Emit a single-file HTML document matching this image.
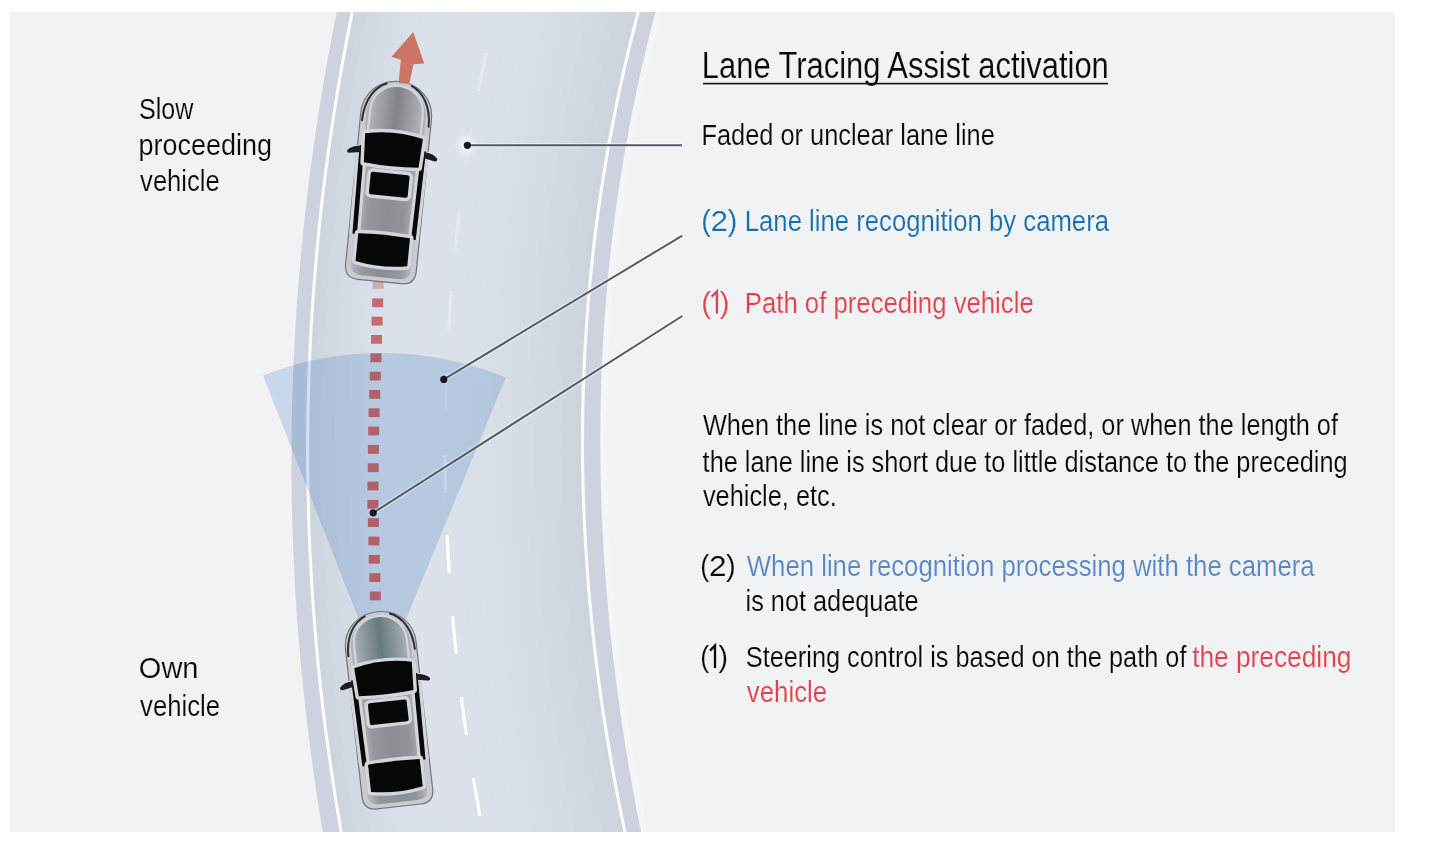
<!DOCTYPE html>
<html><head><meta charset="utf-8"><title>Lane Tracing Assist activation</title>
<style>html,body{margin:0;padding:0;background:#fff;width:1437px;height:847px;overflow:hidden}</style>
</head><body><svg width="1437" height="847" viewBox="0 0 1437 847" style="display:block;font-family:'Liberation Sans',sans-serif"><defs>
<clipPath id="panel"><rect x="10" y="12" width="1385" height="820"/></clipPath>
<linearGradient id="roadg" x1="0" y1="0" x2="1" y2="0">
<stop offset="0" stop-color="#cfd6e0"/><stop offset="0.15" stop-color="#d6dce6"/><stop offset="0.6" stop-color="#d9dfe8"/><stop offset="0.9" stop-color="#d2d9e3"/><stop offset="1" stop-color="#ccd3de"/>
</linearGradient>
<linearGradient id="carg" x1="0" y1="0" x2="1" y2="0">
<stop offset="0" stop-color="#b4b8be"/><stop offset="0.2" stop-color="#94979c"/><stop offset="0.5" stop-color="#8a8d92"/><stop offset="0.8" stop-color="#919499"/><stop offset="1" stop-color="#b2b6bc"/>
</linearGradient>
<linearGradient id="hoodg2" x1="0" y1="0" x2="1" y2="0">
<stop offset="0" stop-color="#aab0b5"/><stop offset="0.22" stop-color="#8c979d"/><stop offset="0.5" stop-color="#697880"/><stop offset="0.78" stop-color="#8c979d"/><stop offset="1" stop-color="#aab0b5"/>
</linearGradient>
<linearGradient id="hoodg" x1="0" y1="0" x2="1" y2="0">
<stop offset="0" stop-color="#b2b5ba"/><stop offset="0.22" stop-color="#9b9ea3"/><stop offset="0.5" stop-color="#808387"/><stop offset="0.78" stop-color="#9b9ea3"/><stop offset="1" stop-color="#b2b5ba"/>
</linearGradient>
</defs><rect x="0" y="0" width="1437" height="847" fill="#ffffff"/><rect x="10" y="12" width="1385" height="820" fill="#f1f2f4"/><g clip-path="url(#panel)"><path d="M659.5,8.0 L654.3,28.0 L649.3,48.0 L644.6,68.0 L640.2,88.0 L636.0,108.0 L632.1,128.0 L628.5,148.0 L625.1,168.0 L621.9,188.0 L619.0,208.0 L616.4,228.0 L614.0,248.0 L611.9,268.0 L610.0,288.0 L608.3,308.0 L606.9,328.0 L605.7,348.0 L604.8,368.0 L604.0,388.0 L603.6,408.0 L603.3,428.0 L603.3,448.0 L603.5,468.0 L603.9,488.0 L604.5,508.0 L605.4,528.0 L606.5,548.0 L607.8,568.0 L609.3,588.0 L611.0,608.0 L612.9,628.0 L615.1,648.0 L617.4,668.0 L619.9,688.0 L622.7,708.0 L625.6,728.0 L628.7,748.0 L632.1,768.0 L635.6,788.0 L639.3,808.0 L643.2,828.0 L647.3,848.0" stroke="#f4f5f7" stroke-width="7" fill="none"/><path d="M337.6,8.0 L333.6,28.0 L329.8,48.0 L326.1,68.0 L322.7,88.0 L319.4,108.0 L316.3,128.0 L313.4,148.0 L310.7,168.0 L308.1,188.0 L305.8,208.0 L303.6,228.0 L301.6,248.0 L299.7,268.0 L298.1,288.0 L296.6,308.0 L295.4,328.0 L294.3,348.0 L293.3,368.0 L292.6,388.0 L292.0,408.0 L291.7,428.0 L291.5,448.0 L291.4,468.0 L291.6,488.0 L291.9,508.0 L292.5,528.0 L293.2,548.0 L294.1,568.0 L295.1,588.0 L296.4,608.0 L297.8,628.0 L299.4,648.0 L301.2,668.0 L303.2,688.0 L305.3,708.0 L307.7,728.0 L310.2,748.0 L312.9,768.0 L315.8,788.0 L318.8,808.0 L322.1,828.0 L325.5,848.0 L644.3,848.0 L640.2,828.0 L636.3,808.0 L632.6,788.0 L629.1,768.0 L625.7,748.0 L622.6,728.0 L619.7,708.0 L616.9,688.0 L614.4,668.0 L612.1,648.0 L609.9,628.0 L608.0,608.0 L606.3,588.0 L604.8,568.0 L603.5,548.0 L602.4,528.0 L601.5,508.0 L600.9,488.0 L600.5,468.0 L600.3,448.0 L600.3,428.0 L600.6,408.0 L601.0,388.0 L601.8,368.0 L602.7,348.0 L603.9,328.0 L605.3,308.0 L607.0,288.0 L608.9,268.0 L611.0,248.0 L613.4,228.0 L616.0,208.0 L618.9,188.0 L622.1,168.0 L625.5,148.0 L629.1,128.0 L633.0,108.0 L637.2,88.0 L641.6,68.0 L646.3,48.0 L651.3,28.0 L656.5,8.0Z" fill="#cdd2de"/><path d="M352.8,8.0 L348.8,28.0 L344.9,48.0 L341.3,68.0 L337.8,88.0 L334.6,108.0 L331.5,128.0 L328.6,148.0 L325.9,168.0 L323.3,188.0 L321.0,208.0 L318.8,228.0 L316.9,248.0 L315.1,268.0 L313.5,288.0 L312.1,308.0 L310.8,328.0 L309.8,348.0 L308.9,368.0 L308.3,388.0 L307.8,408.0 L307.5,428.0 L307.3,448.0 L307.4,468.0 L307.7,488.0 L308.1,508.0 L308.7,528.0 L309.5,548.0 L310.5,568.0 L311.7,588.0 L313.0,608.0 L314.6,628.0 L316.3,648.0 L318.2,668.0 L320.3,688.0 L322.6,708.0 L325.1,728.0 L327.8,748.0 L330.6,768.0 L333.6,788.0 L336.8,808.0 L340.2,828.0 L343.8,848.0 L351.5,848.0 L347.9,828.0 L344.5,808.0 L341.3,788.0 L338.2,768.0 L335.4,748.0 L332.7,728.0 L330.2,708.0 L327.9,688.0 L325.8,668.0 L323.9,648.0 L322.1,628.0 L320.6,608.0 L319.2,588.0 L318.0,568.0 L317.0,548.0 L316.2,528.0 L315.6,508.0 L315.1,488.0 L314.9,468.0 L314.8,448.0 L314.9,428.0 L315.2,408.0 L315.7,388.0 L316.4,368.0 L317.3,348.0 L318.3,328.0 L319.6,308.0 L321.0,288.0 L322.6,268.0 L324.4,248.0 L326.4,228.0 L328.5,208.0 L330.9,188.0 L333.4,168.0 L336.2,148.0 L339.1,128.0 L342.2,108.0 L345.5,88.0 L349.0,68.0 L352.6,48.0 L356.5,28.0 L360.5,8.0Z" fill="rgb(205, 212, 222)"/><path d="M359.9,8.0 L355.9,28.0 L352.0,48.0 L348.4,68.0 L344.9,88.0 L341.6,108.0 L338.5,128.0 L335.6,148.0 L332.8,168.0 L330.3,188.0 L327.9,208.0 L325.8,228.0 L323.8,248.0 L322.0,268.0 L320.4,288.0 L319.0,308.0 L317.7,328.0 L316.7,348.0 L315.8,368.0 L315.1,388.0 L314.6,408.0 L314.3,428.0 L314.2,448.0 L314.3,468.0 L314.5,488.0 L315.0,508.0 L315.6,528.0 L316.4,548.0 L317.4,568.0 L318.6,588.0 L320.0,608.0 L321.5,628.0 L323.3,648.0 L325.2,668.0 L327.3,688.0 L329.6,708.0 L332.1,728.0 L334.8,748.0 L337.6,768.0 L340.7,788.0 L343.9,808.0 L347.3,828.0 L350.9,848.0 L358.6,848.0 L355.0,828.0 L351.6,808.0 L348.3,788.0 L345.3,768.0 L342.4,748.0 L339.7,728.0 L337.2,708.0 L334.9,688.0 L332.8,668.0 L330.8,648.0 L329.1,628.0 L327.5,608.0 L326.1,588.0 L324.9,568.0 L323.9,548.0 L323.1,528.0 L322.5,508.0 L322.0,488.0 L321.8,468.0 L321.7,448.0 L321.8,428.0 L322.1,408.0 L322.6,388.0 L323.3,368.0 L324.1,348.0 L325.2,328.0 L326.4,308.0 L327.9,288.0 L329.5,268.0 L331.3,248.0 L333.3,228.0 L335.5,208.0 L337.8,188.0 L340.4,168.0 L343.2,148.0 L346.1,128.0 L349.2,108.0 L352.5,88.0 L356.0,68.0 L359.7,48.0 L363.6,28.0 L367.7,8.0Z" fill="rgb(207, 214, 224)"/><path d="M367.1,8.0 L363.0,28.0 L359.1,48.0 L355.4,68.0 L351.9,88.0 L348.6,108.0 L345.5,128.0 L342.6,148.0 L339.8,168.0 L337.2,188.0 L334.9,208.0 L332.7,228.0 L330.7,248.0 L328.9,268.0 L327.3,288.0 L325.8,308.0 L324.6,328.0 L323.5,348.0 L322.7,368.0 L322.0,388.0 L321.5,408.0 L321.2,428.0 L321.1,448.0 L321.2,468.0 L321.4,488.0 L321.9,508.0 L322.5,528.0 L323.3,548.0 L324.3,568.0 L325.5,588.0 L326.9,608.0 L328.5,628.0 L330.2,648.0 L332.2,668.0 L334.3,688.0 L336.6,708.0 L339.1,728.0 L341.8,748.0 L344.7,768.0 L347.7,788.0 L351.0,808.0 L354.4,828.0 L358.0,848.0 L365.7,848.0 L362.1,828.0 L358.7,808.0 L355.4,788.0 L352.3,768.0 L349.4,748.0 L346.7,728.0 L344.2,708.0 L341.9,688.0 L339.7,668.0 L337.8,648.0 L336.0,628.0 L334.4,608.0 L333.0,588.0 L331.8,568.0 L330.8,548.0 L330.0,528.0 L329.3,508.0 L328.9,488.0 L328.6,468.0 L328.6,448.0 L328.7,428.0 L329.0,408.0 L329.5,388.0 L330.1,368.0 L331.0,348.0 L332.1,328.0 L333.3,308.0 L334.8,288.0 L336.4,268.0 L338.2,248.0 L340.2,228.0 L342.4,208.0 L344.8,188.0 L347.4,168.0 L350.1,148.0 L353.1,128.0 L356.2,108.0 L359.6,88.0 L363.1,68.0 L366.8,48.0 L370.7,28.0 L374.8,8.0Z" fill="rgb(209, 216, 226)"/><path d="M374.2,8.0 L370.1,28.0 L366.2,48.0 L362.5,68.0 L359.0,88.0 L355.6,108.0 L352.5,128.0 L349.5,148.0 L346.8,168.0 L344.2,188.0 L341.8,208.0 L339.6,228.0 L337.6,248.0 L335.8,268.0 L334.2,288.0 L332.7,308.0 L331.5,328.0 L330.4,348.0 L329.5,368.0 L328.9,388.0 L328.4,408.0 L328.1,428.0 L328.0,448.0 L328.0,468.0 L328.3,488.0 L328.7,508.0 L329.4,528.0 L330.2,548.0 L331.2,568.0 L332.4,588.0 L333.8,608.0 L335.4,628.0 L337.2,648.0 L339.1,668.0 L341.3,688.0 L343.6,708.0 L346.1,728.0 L348.8,748.0 L351.7,768.0 L354.8,788.0 L358.1,808.0 L361.5,828.0 L365.1,848.0 L372.9,848.0 L369.2,828.0 L365.7,808.0 L362.4,788.0 L359.3,768.0 L356.4,748.0 L353.7,728.0 L351.2,708.0 L348.8,688.0 L346.7,668.0 L344.7,648.0 L342.9,628.0 L341.3,608.0 L339.9,588.0 L338.7,568.0 L337.7,548.0 L336.9,528.0 L336.2,508.0 L335.8,488.0 L335.5,468.0 L335.4,448.0 L335.5,428.0 L335.8,408.0 L336.3,388.0 L337.0,368.0 L337.9,348.0 L339.0,328.0 L340.2,308.0 L341.7,288.0 L343.3,268.0 L345.1,248.0 L347.1,228.0 L349.3,208.0 L351.7,188.0 L354.3,168.0 L357.1,148.0 L360.1,128.0 L363.3,108.0 L366.6,88.0 L370.2,68.0 L373.9,48.0 L377.9,28.0 L382.0,8.0Z" fill="rgb(211, 217, 227)"/><path d="M381.4,8.0 L377.3,28.0 L373.3,48.0 L369.6,68.0 L366.0,88.0 L362.7,108.0 L359.5,128.0 L356.5,148.0 L353.7,168.0 L351.1,188.0 L348.7,208.0 L346.5,228.0 L344.5,248.0 L342.7,268.0 L341.1,288.0 L339.6,308.0 L338.4,328.0 L337.3,348.0 L336.4,368.0 L335.7,388.0 L335.2,408.0 L334.9,428.0 L334.8,448.0 L334.9,468.0 L335.2,488.0 L335.6,508.0 L336.3,528.0 L337.1,548.0 L338.1,568.0 L339.3,588.0 L340.7,608.0 L342.3,628.0 L344.1,648.0 L346.1,668.0 L348.2,688.0 L350.6,708.0 L353.1,728.0 L355.8,748.0 L358.7,768.0 L361.8,788.0 L365.1,808.0 L368.6,828.0 L372.3,848.0 L380.0,848.0 L376.3,828.0 L372.8,808.0 L369.5,788.0 L366.4,768.0 L363.5,748.0 L360.7,728.0 L358.2,708.0 L355.8,688.0 L353.6,668.0 L351.7,648.0 L349.9,628.0 L348.3,608.0 L346.9,588.0 L345.6,568.0 L344.6,548.0 L343.8,528.0 L343.1,508.0 L342.6,488.0 L342.4,468.0 L342.3,448.0 L342.4,428.0 L342.7,408.0 L343.2,388.0 L343.9,368.0 L344.8,348.0 L345.8,328.0 L347.1,308.0 L348.5,288.0 L350.2,268.0 L352.0,248.0 L354.1,228.0 L356.3,208.0 L358.7,188.0 L361.3,168.0 L364.1,148.0 L367.1,128.0 L370.3,108.0 L373.7,88.0 L377.2,68.0 L381.0,48.0 L385.0,28.0 L389.1,8.0Z" fill="rgb(213, 219, 228)"/><path d="M388.5,8.0 L384.4,28.0 L380.4,48.0 L376.6,68.0 L373.1,88.0 L369.7,108.0 L366.5,128.0 L363.5,148.0 L360.7,168.0 L358.1,188.0 L355.7,208.0 L353.5,228.0 L351.4,248.0 L349.6,268.0 L347.9,288.0 L346.5,308.0 L345.2,328.0 L344.2,348.0 L343.3,368.0 L342.6,388.0 L342.1,408.0 L341.8,428.0 L341.7,448.0 L341.8,468.0 L342.0,488.0 L342.5,508.0 L343.2,528.0 L344.0,548.0 L345.0,568.0 L346.3,588.0 L347.7,608.0 L349.3,628.0 L351.1,648.0 L353.0,668.0 L355.2,688.0 L357.6,708.0 L360.1,728.0 L362.9,748.0 L365.8,768.0 L368.9,788.0 L372.2,808.0 L375.7,828.0 L379.4,848.0 L387.1,848.0 L383.4,828.0 L379.9,808.0 L376.6,788.0 L373.4,768.0 L370.5,748.0 L367.7,728.0 L365.2,708.0 L362.8,688.0 L360.6,668.0 L358.6,648.0 L356.8,628.0 L355.2,608.0 L353.8,588.0 L352.5,568.0 L351.5,548.0 L350.7,528.0 L350.0,508.0 L349.5,488.0 L349.3,468.0 L349.2,448.0 L349.3,428.0 L349.6,408.0 L350.1,388.0 L350.8,368.0 L351.6,348.0 L352.7,328.0 L354.0,308.0 L355.4,288.0 L357.1,268.0 L358.9,248.0 L361.0,228.0 L363.2,208.0 L365.6,188.0 L368.3,168.0 L371.1,148.0 L374.1,128.0 L377.3,108.0 L380.7,88.0 L384.3,68.0 L388.1,48.0 L392.1,28.0 L396.3,8.0Z" fill="rgb(214, 220, 229)"/><path d="M395.7,8.0 L391.5,28.0 L387.5,48.0 L383.7,68.0 L380.1,88.0 L376.7,108.0 L373.5,128.0 L370.5,148.0 L367.7,168.0 L365.0,188.0 L362.6,208.0 L360.4,228.0 L358.3,248.0 L356.5,268.0 L354.8,288.0 L353.4,308.0 L352.1,328.0 L351.0,348.0 L350.2,368.0 L349.5,388.0 L349.0,408.0 L348.7,428.0 L348.6,448.0 L348.7,468.0 L348.9,488.0 L349.4,508.0 L350.1,528.0 L350.9,548.0 L351.9,568.0 L353.2,588.0 L354.6,608.0 L356.2,628.0 L358.0,648.0 L360.0,668.0 L362.2,688.0 L364.6,708.0 L367.1,728.0 L369.9,748.0 L372.8,768.0 L376.0,788.0 L379.3,808.0 L382.8,828.0 L386.5,848.0 L394.2,848.0 L390.5,828.0 L386.9,808.0 L383.6,788.0 L380.5,768.0 L377.5,748.0 L374.7,728.0 L372.2,708.0 L369.8,688.0 L367.6,668.0 L365.6,648.0 L363.8,628.0 L362.1,608.0 L360.7,588.0 L359.5,568.0 L358.4,548.0 L357.5,528.0 L356.9,508.0 L356.4,488.0 L356.1,468.0 L356.0,448.0 L356.1,428.0 L356.4,408.0 L356.9,388.0 L357.6,368.0 L358.5,348.0 L359.6,328.0 L360.9,308.0 L362.3,288.0 L364.0,268.0 L365.8,248.0 L367.9,228.0 L370.1,208.0 L372.6,188.0 L375.2,168.0 L378.1,148.0 L381.1,128.0 L384.3,108.0 L387.8,88.0 L391.4,68.0 L395.2,48.0 L399.2,28.0 L403.5,8.0Z" fill="rgb(215, 221, 230)"/><path d="M402.9,8.0 L398.6,28.0 L394.6,48.0 L390.8,68.0 L387.2,88.0 L383.7,108.0 L380.5,128.0 L377.5,148.0 L374.6,168.0 L372.0,188.0 L369.5,208.0 L367.3,228.0 L365.2,248.0 L363.4,268.0 L361.7,288.0 L360.3,308.0 L359.0,328.0 L357.9,348.0 L357.0,368.0 L356.3,388.0 L355.8,408.0 L355.5,428.0 L355.4,448.0 L355.5,468.0 L355.8,488.0 L356.3,508.0 L356.9,528.0 L357.8,548.0 L358.9,568.0 L360.1,588.0 L361.5,608.0 L363.2,628.0 L365.0,648.0 L367.0,668.0 L369.2,688.0 L371.6,708.0 L374.1,728.0 L376.9,748.0 L379.9,768.0 L383.0,788.0 L386.3,808.0 L389.9,828.0 L393.6,848.0 L401.3,848.0 L397.6,828.0 L394.0,808.0 L390.7,788.0 L387.5,768.0 L384.5,748.0 L381.7,728.0 L379.1,708.0 L376.7,688.0 L374.5,668.0 L372.5,648.0 L370.7,628.0 L369.1,608.0 L367.6,588.0 L366.4,568.0 L365.3,548.0 L364.4,528.0 L363.8,508.0 L363.3,488.0 L363.0,468.0 L362.9,448.0 L363.0,428.0 L363.3,408.0 L363.8,388.0 L364.5,368.0 L365.4,348.0 L366.5,328.0 L367.7,308.0 L369.2,288.0 L370.9,268.0 L372.8,248.0 L374.8,228.0 L377.1,208.0 L379.5,188.0 L382.2,168.0 L385.0,148.0 L388.1,128.0 L391.4,108.0 L394.8,88.0 L398.5,68.0 L402.3,48.0 L406.4,28.0 L410.6,8.0Z" fill="rgb(216, 222, 231)"/><path d="M410.0,8.0 L405.8,28.0 L401.7,48.0 L397.9,68.0 L394.2,88.0 L390.8,108.0 L387.5,128.0 L384.4,148.0 L381.6,168.0 L378.9,188.0 L376.5,208.0 L374.2,228.0 L372.2,248.0 L370.3,268.0 L368.6,288.0 L367.1,308.0 L365.9,328.0 L364.8,348.0 L363.9,368.0 L363.2,388.0 L362.7,408.0 L362.4,428.0 L362.3,448.0 L362.4,468.0 L362.7,488.0 L363.2,508.0 L363.8,528.0 L364.7,548.0 L365.8,568.0 L367.0,588.0 L368.5,608.0 L370.1,628.0 L371.9,648.0 L373.9,668.0 L376.1,688.0 L378.5,708.0 L381.1,728.0 L383.9,748.0 L386.9,768.0 L390.1,788.0 L393.4,808.0 L397.0,828.0 L400.7,848.0 L408.4,848.0 L404.6,828.0 L401.1,808.0 L397.7,788.0 L394.5,768.0 L391.5,748.0 L388.7,728.0 L386.1,708.0 L383.7,688.0 L381.5,668.0 L379.5,648.0 L377.6,628.0 L376.0,608.0 L374.5,588.0 L373.3,568.0 L372.2,548.0 L371.3,528.0 L370.7,508.0 L370.2,488.0 L369.9,468.0 L369.8,448.0 L369.9,428.0 L370.2,408.0 L370.7,388.0 L371.4,368.0 L372.3,348.0 L373.3,328.0 L374.6,308.0 L376.1,288.0 L377.8,268.0 L379.7,248.0 L381.7,228.0 L384.0,208.0 L386.5,188.0 L389.2,168.0 L392.0,148.0 L395.1,128.0 L398.4,108.0 L401.9,88.0 L405.5,68.0 L409.4,48.0 L413.5,28.0 L417.8,8.0Z" fill="rgb(217, 223, 232)"/><path d="M417.2,8.0 L412.9,28.0 L408.8,48.0 L404.9,68.0 L401.3,88.0 L397.8,108.0 L394.5,128.0 L391.4,148.0 L388.6,168.0 L385.9,188.0 L383.4,208.0 L381.1,228.0 L379.1,248.0 L377.2,268.0 L375.5,288.0 L374.0,308.0 L372.7,328.0 L371.7,348.0 L370.8,368.0 L370.1,388.0 L369.6,408.0 L369.3,428.0 L369.2,448.0 L369.3,468.0 L369.6,488.0 L370.1,508.0 L370.7,528.0 L371.6,548.0 L372.7,568.0 L373.9,588.0 L375.4,608.0 L377.0,628.0 L378.9,648.0 L380.9,668.0 L383.1,688.0 L385.5,708.0 L388.1,728.0 L390.9,748.0 L393.9,768.0 L397.1,788.0 L400.5,808.0 L404.0,828.0 L407.8,848.0 L415.5,848.0 L411.7,828.0 L408.2,808.0 L404.8,788.0 L401.6,768.0 L398.6,748.0 L395.7,728.0 L393.1,708.0 L390.7,688.0 L388.5,668.0 L386.4,648.0 L384.6,628.0 L382.9,608.0 L381.4,588.0 L380.2,568.0 L379.1,548.0 L378.2,528.0 L377.5,508.0 L377.0,488.0 L376.8,468.0 L376.7,448.0 L376.8,428.0 L377.1,408.0 L377.6,388.0 L378.2,368.0 L379.1,348.0 L380.2,328.0 L381.5,308.0 L383.0,288.0 L384.7,268.0 L386.6,248.0 L388.7,228.0 L390.9,208.0 L393.4,188.0 L396.1,168.0 L399.0,148.0 L402.1,128.0 L405.4,108.0 L408.9,88.0 L412.6,68.0 L416.5,48.0 L420.6,28.0 L424.9,8.0Z" fill="rgb(218, 224, 233)"/><path d="M424.3,8.0 L420.0,28.0 L415.9,48.0 L412.0,68.0 L408.3,88.0 L404.8,108.0 L401.5,128.0 L398.4,148.0 L395.5,168.0 L392.8,188.0 L390.3,208.0 L388.1,228.0 L386.0,248.0 L384.1,268.0 L382.4,288.0 L380.9,308.0 L379.6,328.0 L378.5,348.0 L377.6,368.0 L377.0,388.0 L376.5,408.0 L376.2,428.0 L376.1,448.0 L376.2,468.0 L376.4,488.0 L376.9,508.0 L377.6,528.0 L378.5,548.0 L379.6,568.0 L380.8,588.0 L382.3,608.0 L384.0,628.0 L385.8,648.0 L387.9,668.0 L390.1,688.0 L392.5,708.0 L395.1,728.0 L398.0,748.0 L401.0,768.0 L404.2,788.0 L407.6,808.0 L411.1,828.0 L414.9,848.0 L422.6,848.0 L418.8,828.0 L415.2,808.0 L411.8,788.0 L408.6,768.0 L405.6,748.0 L402.8,728.0 L400.1,708.0 L397.7,688.0 L395.4,668.0 L393.4,648.0 L391.5,628.0 L389.8,608.0 L388.4,588.0 L387.1,568.0 L386.0,548.0 L385.1,528.0 L384.4,508.0 L383.9,488.0 L383.6,468.0 L383.5,448.0 L383.6,428.0 L383.9,408.0 L384.4,388.0 L385.1,368.0 L386.0,348.0 L387.1,328.0 L388.4,308.0 L389.9,288.0 L391.6,268.0 L393.5,248.0 L395.6,228.0 L397.9,208.0 L400.4,188.0 L403.1,168.0 L406.0,148.0 L409.1,128.0 L412.4,108.0 L415.9,88.0 L419.7,68.0 L423.6,48.0 L427.7,28.0 L432.1,8.0Z" fill="rgb(219, 225, 234)"/><path d="M431.5,8.0 L427.1,28.0 L423.0,48.0 L419.1,68.0 L415.3,88.0 L411.8,108.0 L408.5,128.0 L405.4,148.0 L402.5,168.0 L399.8,188.0 L397.3,208.0 L395.0,228.0 L392.9,248.0 L391.0,268.0 L389.3,288.0 L387.8,308.0 L386.5,328.0 L385.4,348.0 L384.5,368.0 L383.8,388.0 L383.3,408.0 L383.0,428.0 L382.9,448.0 L383.0,468.0 L383.3,488.0 L383.8,508.0 L384.5,528.0 L385.4,548.0 L386.5,568.0 L387.8,588.0 L389.2,608.0 L390.9,628.0 L392.8,648.0 L394.8,668.0 L397.1,688.0 L399.5,708.0 L402.2,728.0 L405.0,748.0 L408.0,768.0 L411.2,788.0 L414.6,808.0 L418.2,828.0 L422.0,848.0 L429.7,848.0 L425.9,828.0 L422.3,808.0 L418.9,788.0 L415.6,768.0 L412.6,748.0 L409.8,728.0 L407.1,708.0 L404.6,688.0 L402.4,668.0 L400.3,648.0 L398.4,628.0 L396.8,608.0 L395.3,588.0 L394.0,568.0 L392.9,548.0 L392.0,528.0 L391.3,508.0 L390.8,488.0 L390.5,468.0 L390.4,448.0 L390.5,428.0 L390.8,408.0 L391.3,388.0 L392.0,368.0 L392.9,348.0 L394.0,328.0 L395.3,308.0 L396.8,288.0 L398.5,268.0 L400.4,248.0 L402.5,228.0 L404.8,208.0 L407.3,188.0 L410.1,168.0 L413.0,148.0 L416.1,128.0 L419.4,108.0 L423.0,88.0 L426.7,68.0 L430.7,48.0 L434.9,28.0 L439.2,8.0Z" fill="rgb(219, 225, 234)"/><path d="M438.6,8.0 L434.3,28.0 L430.1,48.0 L426.1,68.0 L422.4,88.0 L418.8,108.0 L415.5,128.0 L412.4,148.0 L409.5,168.0 L406.7,188.0 L404.2,208.0 L401.9,228.0 L399.8,248.0 L397.9,268.0 L396.2,288.0 L394.7,308.0 L393.4,328.0 L392.3,348.0 L391.4,368.0 L390.7,388.0 L390.2,408.0 L389.9,428.0 L389.8,448.0 L389.9,468.0 L390.2,488.0 L390.7,508.0 L391.4,528.0 L392.3,548.0 L393.4,568.0 L394.7,588.0 L396.2,608.0 L397.8,628.0 L399.7,648.0 L401.8,668.0 L404.0,688.0 L406.5,708.0 L409.2,728.0 L412.0,748.0 L415.0,768.0 L418.3,788.0 L421.7,808.0 L425.3,828.0 L429.1,848.0 L436.8,848.0 L433.0,828.0 L429.4,808.0 L425.9,788.0 L422.7,768.0 L419.6,748.0 L416.8,728.0 L414.1,708.0 L411.6,688.0 L409.3,668.0 L407.3,648.0 L405.4,628.0 L403.7,608.0 L402.2,588.0 L400.9,568.0 L399.8,548.0 L398.9,528.0 L398.2,508.0 L397.7,488.0 L397.4,468.0 L397.3,448.0 L397.4,428.0 L397.7,408.0 L398.2,388.0 L398.9,368.0 L399.8,348.0 L400.9,328.0 L402.2,308.0 L403.7,288.0 L405.4,268.0 L407.3,248.0 L409.4,228.0 L411.7,208.0 L414.3,188.0 L417.0,168.0 L420.0,148.0 L423.1,128.0 L426.5,108.0 L430.0,88.0 L433.8,68.0 L437.8,48.0 L442.0,28.0 L446.4,8.0Z" fill="rgb(219, 225, 234)"/><path d="M445.8,8.0 L441.4,28.0 L437.2,48.0 L433.2,68.0 L429.4,88.0 L425.9,108.0 L422.5,128.0 L419.4,148.0 L416.4,168.0 L413.7,188.0 L411.1,208.0 L408.8,228.0 L406.7,248.0 L404.8,268.0 L403.1,288.0 L401.6,308.0 L400.3,328.0 L399.2,348.0 L398.3,368.0 L397.6,388.0 L397.1,408.0 L396.8,428.0 L396.7,448.0 L396.8,468.0 L397.1,488.0 L397.6,508.0 L398.3,528.0 L399.2,548.0 L400.3,568.0 L401.6,588.0 L403.1,608.0 L404.8,628.0 L406.7,648.0 L408.7,668.0 L411.0,688.0 L413.5,708.0 L416.2,728.0 L419.0,748.0 L422.1,768.0 L425.3,788.0 L428.8,808.0 L432.4,828.0 L436.2,848.0 L443.9,848.0 L440.1,828.0 L436.4,808.0 L433.0,788.0 L429.7,768.0 L426.6,748.0 L423.8,728.0 L421.1,708.0 L418.6,688.0 L416.3,668.0 L414.2,648.0 L412.3,628.0 L410.6,608.0 L409.1,588.0 L407.8,568.0 L406.7,548.0 L405.8,528.0 L405.1,508.0 L404.6,488.0 L404.3,468.0 L404.1,448.0 L404.2,428.0 L404.5,408.0 L405.0,388.0 L405.7,368.0 L406.6,348.0 L407.7,328.0 L409.0,308.0 L410.6,288.0 L412.3,268.0 L414.2,248.0 L416.3,228.0 L418.7,208.0 L421.2,188.0 L424.0,168.0 L426.9,148.0 L430.1,128.0 L433.5,108.0 L437.1,88.0 L440.9,68.0 L444.9,48.0 L449.1,28.0 L453.5,8.0Z" fill="rgb(219, 225, 234)"/><path d="M452.9,8.0 L448.5,28.0 L444.3,48.0 L440.3,68.0 L436.5,88.0 L432.9,108.0 L429.5,128.0 L426.3,148.0 L423.4,168.0 L420.6,188.0 L418.1,208.0 L415.7,228.0 L413.6,248.0 L411.7,268.0 L410.0,288.0 L408.4,308.0 L407.1,328.0 L406.0,348.0 L405.1,368.0 L404.4,388.0 L403.9,408.0 L403.6,428.0 L403.5,448.0 L403.7,468.0 L404.0,488.0 L404.5,508.0 L405.2,528.0 L406.1,548.0 L407.2,568.0 L408.5,588.0 L410.0,608.0 L411.7,628.0 L413.6,648.0 L415.7,668.0 L418.0,688.0 L420.5,708.0 L423.2,728.0 L426.0,748.0 L429.1,768.0 L432.4,788.0 L435.8,808.0 L439.5,828.0 L443.3,848.0 L451.0,848.0 L447.2,828.0 L443.5,808.0 L440.0,788.0 L436.8,768.0 L433.7,748.0 L430.8,728.0 L428.1,708.0 L425.6,688.0 L423.3,668.0 L421.2,648.0 L419.3,628.0 L417.5,608.0 L416.0,588.0 L414.7,568.0 L413.6,548.0 L412.7,528.0 L412.0,508.0 L411.4,488.0 L411.1,468.0 L411.0,448.0 L411.1,428.0 L411.4,408.0 L411.9,388.0 L412.6,368.0 L413.5,348.0 L414.6,328.0 L415.9,308.0 L417.5,288.0 L419.2,268.0 L421.1,248.0 L423.3,228.0 L425.6,208.0 L428.2,188.0 L430.9,168.0 L433.9,148.0 L437.1,128.0 L440.5,108.0 L444.1,88.0 L448.0,68.0 L452.0,48.0 L456.2,28.0 L460.7,8.0Z" fill="rgb(220, 225, 234)"/><path d="M460.1,8.0 L455.6,28.0 L451.4,48.0 L447.4,68.0 L443.5,88.0 L439.9,108.0 L436.5,128.0 L433.3,148.0 L430.3,168.0 L427.6,188.0 L425.0,208.0 L422.7,228.0 L420.5,248.0 L418.6,268.0 L416.9,288.0 L415.3,308.0 L414.0,328.0 L412.9,348.0 L412.0,368.0 L411.3,388.0 L410.8,408.0 L410.5,428.0 L410.4,448.0 L410.5,468.0 L410.8,488.0 L411.4,508.0 L412.1,528.0 L413.0,548.0 L414.1,568.0 L415.4,588.0 L416.9,608.0 L418.7,628.0 L420.6,648.0 L422.7,668.0 L425.0,688.0 L427.5,708.0 L430.2,728.0 L433.1,748.0 L436.2,768.0 L439.4,788.0 L442.9,808.0 L446.6,828.0 L450.4,848.0 L458.1,848.0 L454.3,828.0 L450.6,808.0 L447.1,788.0 L443.8,768.0 L440.7,748.0 L437.8,728.0 L435.1,708.0 L432.6,688.0 L430.2,668.0 L428.1,648.0 L426.2,628.0 L424.5,608.0 L422.9,588.0 L421.6,568.0 L420.5,548.0 L419.6,528.0 L418.8,508.0 L418.3,488.0 L418.0,468.0 L417.9,448.0 L418.0,428.0 L418.3,408.0 L418.8,388.0 L419.5,368.0 L420.4,348.0 L421.5,328.0 L422.8,308.0 L424.3,288.0 L426.1,268.0 L428.0,248.0 L430.2,228.0 L432.6,208.0 L435.1,188.0 L437.9,168.0 L440.9,148.0 L444.1,128.0 L447.5,108.0 L451.2,88.0 L455.0,68.0 L459.1,48.0 L463.4,28.0 L467.9,8.0Z" fill="rgb(220, 225, 234)"/><path d="M467.3,8.0 L462.8,28.0 L458.5,48.0 L454.4,68.0 L450.6,88.0 L446.9,108.0 L443.5,128.0 L440.3,148.0 L437.3,168.0 L434.5,188.0 L432.0,208.0 L429.6,228.0 L427.4,248.0 L425.5,268.0 L423.7,288.0 L422.2,308.0 L420.9,328.0 L419.8,348.0 L418.9,368.0 L418.2,388.0 L417.7,408.0 L417.4,428.0 L417.3,448.0 L417.4,468.0 L417.7,488.0 L418.2,508.0 L419.0,528.0 L419.9,548.0 L421.0,568.0 L422.3,588.0 L423.9,608.0 L425.6,628.0 L427.5,648.0 L429.6,668.0 L432.0,688.0 L434.5,708.0 L437.2,728.0 L440.1,748.0 L443.2,768.0 L446.5,788.0 L450.0,808.0 L453.7,828.0 L457.5,848.0 L465.3,848.0 L461.4,828.0 L457.7,808.0 L454.1,788.0 L450.8,768.0 L447.7,748.0 L444.8,728.0 L442.1,708.0 L439.5,688.0 L437.2,668.0 L435.1,648.0 L433.1,628.0 L431.4,608.0 L429.9,588.0 L428.5,568.0 L427.4,548.0 L426.5,528.0 L425.7,508.0 L425.2,488.0 L424.9,468.0 L424.8,448.0 L424.8,428.0 L425.1,408.0 L425.6,388.0 L426.3,368.0 L427.3,348.0 L428.4,328.0 L429.7,308.0 L431.2,288.0 L433.0,268.0 L434.9,248.0 L437.1,228.0 L439.5,208.0 L442.1,188.0 L444.9,168.0 L447.9,148.0 L451.1,128.0 L454.6,108.0 L458.2,88.0 L462.1,68.0 L466.2,48.0 L470.5,28.0 L475.0,8.0Z" fill="rgb(220, 225, 234)"/><path d="M474.4,8.0 L469.9,28.0 L465.6,48.0 L461.5,68.0 L457.6,88.0 L454.0,108.0 L450.5,128.0 L447.3,148.0 L444.3,168.0 L441.5,188.0 L438.9,208.0 L436.5,228.0 L434.3,248.0 L432.4,268.0 L430.6,288.0 L429.1,308.0 L427.8,328.0 L426.7,348.0 L425.7,368.0 L425.0,388.0 L424.5,408.0 L424.2,428.0 L424.2,448.0 L424.3,468.0 L424.6,488.0 L425.1,508.0 L425.9,528.0 L426.8,548.0 L427.9,568.0 L429.3,588.0 L430.8,608.0 L432.5,628.0 L434.5,648.0 L436.6,668.0 L438.9,688.0 L441.5,708.0 L444.2,728.0 L447.1,748.0 L450.2,768.0 L453.5,788.0 L457.1,808.0 L460.8,828.0 L464.7,848.0 L472.4,848.0 L468.4,828.0 L464.7,808.0 L461.2,788.0 L457.9,768.0 L454.7,748.0 L451.8,728.0 L449.0,708.0 L446.5,688.0 L444.2,668.0 L442.0,648.0 L440.1,628.0 L438.3,608.0 L436.8,588.0 L435.4,568.0 L434.3,548.0 L433.3,528.0 L432.6,508.0 L432.1,488.0 L431.8,468.0 L431.6,448.0 L431.7,428.0 L432.0,408.0 L432.5,388.0 L433.2,368.0 L434.1,348.0 L435.3,328.0 L436.6,308.0 L438.1,288.0 L439.9,268.0 L441.8,248.0 L444.0,228.0 L446.4,208.0 L449.0,188.0 L451.8,168.0 L454.9,148.0 L458.1,128.0 L461.6,108.0 L465.3,88.0 L469.2,68.0 L473.3,48.0 L477.6,28.0 L482.2,8.0Z" fill="rgb(220, 225, 234)"/><path d="M481.6,8.0 L477.0,28.0 L472.7,48.0 L468.6,68.0 L464.7,88.0 L461.0,108.0 L457.5,128.0 L454.3,148.0 L451.2,168.0 L448.4,188.0 L445.8,208.0 L443.4,228.0 L441.2,248.0 L439.3,268.0 L437.5,288.0 L436.0,308.0 L434.7,328.0 L433.5,348.0 L432.6,368.0 L431.9,388.0 L431.4,408.0 L431.1,428.0 L431.0,448.0 L431.2,468.0 L431.5,488.0 L432.0,508.0 L432.7,528.0 L433.7,548.0 L434.8,568.0 L436.2,588.0 L437.7,608.0 L439.5,628.0 L441.4,648.0 L443.6,668.0 L445.9,688.0 L448.4,708.0 L451.2,728.0 L454.1,748.0 L457.3,768.0 L460.6,788.0 L464.1,808.0 L467.8,828.0 L471.8,848.0 L479.5,848.0 L475.5,828.0 L471.8,808.0 L468.2,788.0 L464.9,768.0 L461.7,748.0 L458.8,728.0 L456.0,708.0 L453.5,688.0 L451.1,668.0 L449.0,648.0 L447.0,628.0 L445.2,608.0 L443.7,588.0 L442.3,568.0 L441.2,548.0 L440.2,528.0 L439.5,508.0 L439.0,488.0 L438.6,468.0 L438.5,448.0 L438.6,428.0 L438.9,408.0 L439.4,388.0 L440.1,368.0 L441.0,348.0 L442.1,328.0 L443.5,308.0 L445.0,288.0 L446.8,268.0 L448.8,248.0 L450.9,228.0 L453.4,208.0 L456.0,188.0 L458.8,168.0 L461.9,148.0 L465.1,128.0 L468.6,108.0 L472.3,88.0 L476.2,68.0 L480.4,48.0 L484.7,28.0 L489.3,8.0Z" fill="rgb(220, 225, 234)"/><path d="M488.7,8.0 L484.1,28.0 L479.8,48.0 L475.6,68.0 L471.7,88.0 L468.0,108.0 L464.5,128.0 L461.3,148.0 L458.2,168.0 L455.4,188.0 L452.8,208.0 L450.3,228.0 L448.2,248.0 L446.2,268.0 L444.4,288.0 L442.9,308.0 L441.5,328.0 L440.4,348.0 L439.5,368.0 L438.8,388.0 L438.3,408.0 L438.0,428.0 L437.9,448.0 L438.0,468.0 L438.4,488.0 L438.9,508.0 L439.6,528.0 L440.6,548.0 L441.7,568.0 L443.1,588.0 L444.6,608.0 L446.4,628.0 L448.4,648.0 L450.5,668.0 L452.9,688.0 L455.4,708.0 L458.2,728.0 L461.1,748.0 L464.3,768.0 L467.6,788.0 L471.2,808.0 L474.9,828.0 L478.9,848.0 L486.6,848.0 L482.6,828.0 L478.9,808.0 L475.3,788.0 L471.9,768.0 L468.8,748.0 L465.8,728.0 L463.0,708.0 L460.5,688.0 L458.1,668.0 L455.9,648.0 L453.9,628.0 L452.2,608.0 L450.6,588.0 L449.2,568.0 L448.1,548.0 L447.1,528.0 L446.4,508.0 L445.8,488.0 L445.5,468.0 L445.4,448.0 L445.5,428.0 L445.7,408.0 L446.2,388.0 L447.0,368.0 L447.9,348.0 L449.0,328.0 L450.4,308.0 L451.9,288.0 L453.7,268.0 L455.7,248.0 L457.9,228.0 L460.3,208.0 L462.9,188.0 L465.8,168.0 L468.8,148.0 L472.1,128.0 L475.6,108.0 L479.4,88.0 L483.3,68.0 L487.5,48.0 L491.9,28.0 L496.5,8.0Z" fill="rgb(219, 225, 234)"/><path d="M495.9,8.0 L491.3,28.0 L486.9,48.0 L482.7,68.0 L478.8,88.0 L475.0,108.0 L471.5,128.0 L468.2,148.0 L465.2,168.0 L462.3,188.0 L459.7,208.0 L457.3,228.0 L455.1,248.0 L453.1,268.0 L451.3,288.0 L449.8,308.0 L448.4,328.0 L447.3,348.0 L446.4,368.0 L445.6,388.0 L445.1,408.0 L444.9,428.0 L444.8,448.0 L444.9,468.0 L445.2,488.0 L445.8,508.0 L446.5,528.0 L447.5,548.0 L448.6,568.0 L450.0,588.0 L451.6,608.0 L453.3,628.0 L455.3,648.0 L457.5,668.0 L459.9,688.0 L462.4,708.0 L465.2,728.0 L468.2,748.0 L471.3,768.0 L474.7,788.0 L478.3,808.0 L482.0,828.0 L486.0,848.0 L493.7,848.0 L489.7,828.0 L485.9,808.0 L482.4,788.0 L479.0,768.0 L475.8,748.0 L472.8,728.0 L470.0,708.0 L467.4,688.0 L465.0,668.0 L462.9,648.0 L460.9,628.0 L459.1,608.0 L457.5,588.0 L456.2,568.0 L455.0,548.0 L454.0,528.0 L453.3,508.0 L452.7,488.0 L452.4,468.0 L452.3,448.0 L452.3,428.0 L452.6,408.0 L453.1,388.0 L453.8,368.0 L454.8,348.0 L455.9,328.0 L457.2,308.0 L458.8,288.0 L460.6,268.0 L462.6,248.0 L464.8,228.0 L467.2,208.0 L469.9,188.0 L472.7,168.0 L475.8,148.0 L479.1,128.0 L482.7,108.0 L486.4,88.0 L490.4,68.0 L494.6,48.0 L499.0,28.0 L503.6,8.0Z" fill="rgb(219, 224, 233)"/><path d="M503.0,8.0 L498.4,28.0 L494.0,48.0 L489.8,68.0 L485.8,88.0 L482.1,108.0 L478.5,128.0 L475.2,148.0 L472.1,168.0 L469.3,188.0 L466.6,208.0 L464.2,228.0 L462.0,248.0 L460.0,268.0 L458.2,288.0 L456.6,308.0 L455.3,328.0 L454.2,348.0 L453.2,368.0 L452.5,388.0 L452.0,408.0 L451.7,428.0 L451.7,448.0 L451.8,468.0 L452.1,488.0 L452.7,508.0 L453.4,528.0 L454.4,548.0 L455.6,568.0 L456.9,588.0 L458.5,608.0 L460.3,628.0 L462.3,648.0 L464.4,668.0 L466.8,688.0 L469.4,708.0 L472.2,728.0 L475.2,748.0 L478.4,768.0 L481.8,788.0 L485.3,808.0 L489.1,828.0 L493.1,848.0 L500.8,848.0 L496.8,828.0 L493.0,808.0 L489.4,788.0 L486.0,768.0 L482.8,748.0 L479.8,728.0 L477.0,708.0 L474.4,688.0 L472.0,668.0 L469.8,648.0 L467.8,628.0 L466.0,608.0 L464.4,588.0 L463.1,568.0 L461.9,548.0 L460.9,528.0 L460.2,508.0 L459.6,488.0 L459.3,468.0 L459.1,448.0 L459.2,428.0 L459.5,408.0 L460.0,388.0 L460.7,368.0 L461.6,348.0 L462.8,328.0 L464.1,308.0 L465.7,288.0 L467.5,268.0 L469.5,248.0 L471.7,228.0 L474.2,208.0 L476.8,188.0 L479.7,168.0 L482.8,148.0 L486.1,128.0 L489.7,108.0 L493.5,88.0 L497.4,68.0 L501.7,48.0 L506.1,28.0 L510.8,8.0Z" fill="rgb(219, 224, 233)"/><path d="M510.2,8.0 L505.5,28.0 L501.1,48.0 L496.8,68.0 L492.9,88.0 L489.1,108.0 L485.5,128.0 L482.2,148.0 L479.1,168.0 L476.2,188.0 L473.6,208.0 L471.1,228.0 L468.9,248.0 L466.9,268.0 L465.1,288.0 L463.5,308.0 L462.2,328.0 L461.0,348.0 L460.1,368.0 L459.4,388.0 L458.9,408.0 L458.6,428.0 L458.5,448.0 L458.7,468.0 L459.0,488.0 L459.6,508.0 L460.3,528.0 L461.3,548.0 L462.5,568.0 L463.8,588.0 L465.4,608.0 L467.2,628.0 L469.2,648.0 L471.4,668.0 L473.8,688.0 L476.4,708.0 L479.2,728.0 L482.2,748.0 L485.4,768.0 L488.8,788.0 L492.4,808.0 L496.2,828.0 L500.2,848.0 L507.9,848.0 L503.9,828.0 L500.1,808.0 L496.5,788.0 L493.0,768.0 L489.8,748.0 L486.8,728.0 L484.0,708.0 L481.4,688.0 L479.0,668.0 L476.8,648.0 L474.8,628.0 L473.0,608.0 L471.4,588.0 L470.0,568.0 L468.8,548.0 L467.8,528.0 L467.0,508.0 L466.5,488.0 L466.1,468.0 L466.0,448.0 L466.1,428.0 L466.4,408.0 L466.9,388.0 L467.6,368.0 L468.5,348.0 L469.6,328.0 L471.0,308.0 L472.6,288.0 L474.4,268.0 L476.4,248.0 L478.6,228.0 L481.1,208.0 L483.8,188.0 L486.7,168.0 L489.8,148.0 L493.1,128.0 L496.7,108.0 L500.5,88.0 L504.5,68.0 L508.8,48.0 L513.2,28.0 L517.9,8.0Z" fill="rgb(218, 224, 233)"/><path d="M517.3,8.0 L512.6,28.0 L508.2,48.0 L503.9,68.0 L499.9,88.0 L496.1,108.0 L492.5,128.0 L489.2,148.0 L486.1,168.0 L483.2,188.0 L480.5,208.0 L478.0,228.0 L475.8,248.0 L473.8,268.0 L472.0,288.0 L470.4,308.0 L469.0,328.0 L467.9,348.0 L467.0,368.0 L466.3,388.0 L465.8,408.0 L465.5,428.0 L465.4,448.0 L465.5,468.0 L465.9,488.0 L466.4,508.0 L467.2,528.0 L468.2,548.0 L469.4,568.0 L470.8,588.0 L472.4,608.0 L474.2,628.0 L476.2,648.0 L478.4,668.0 L480.8,688.0 L483.4,708.0 L486.2,728.0 L489.2,748.0 L492.4,768.0 L495.9,788.0 L499.5,808.0 L503.3,828.0 L507.3,848.0 L515.0,848.0 L511.0,828.0 L507.1,808.0 L503.5,788.0 L500.1,768.0 L496.9,748.0 L493.8,728.0 L491.0,708.0 L488.4,688.0 L485.9,668.0 L483.7,648.0 L481.7,628.0 L479.9,608.0 L478.3,588.0 L476.9,568.0 L475.7,548.0 L474.7,528.0 L473.9,508.0 L473.4,488.0 L473.0,468.0 L472.9,448.0 L472.9,428.0 L473.2,408.0 L473.7,388.0 L474.4,368.0 L475.4,348.0 L476.5,328.0 L477.9,308.0 L479.5,288.0 L481.3,268.0 L483.3,248.0 L485.6,228.0 L488.0,208.0 L490.7,188.0 L493.6,168.0 L496.8,148.0 L500.1,128.0 L503.7,108.0 L507.5,88.0 L511.6,68.0 L515.9,48.0 L520.4,28.0 L525.1,8.0Z" fill="rgb(218, 224, 233)"/><path d="M524.5,8.0 L519.8,28.0 L515.3,48.0 L511.0,68.0 L506.9,88.0 L503.1,108.0 L499.5,128.0 L496.2,148.0 L493.0,168.0 L490.1,188.0 L487.4,208.0 L485.0,228.0 L482.7,248.0 L480.7,268.0 L478.9,288.0 L477.3,308.0 L475.9,328.0 L474.8,348.0 L473.8,368.0 L473.1,388.0 L472.6,408.0 L472.3,428.0 L472.3,448.0 L472.4,468.0 L472.8,488.0 L473.3,508.0 L474.1,528.0 L475.1,548.0 L476.3,568.0 L477.7,588.0 L479.3,608.0 L481.1,628.0 L483.1,648.0 L485.3,668.0 L487.8,688.0 L490.4,708.0 L493.2,728.0 L496.3,748.0 L499.5,768.0 L502.9,788.0 L506.5,808.0 L510.4,828.0 L514.4,848.0 L522.1,848.0 L518.1,828.0 L514.2,808.0 L510.6,788.0 L507.1,768.0 L503.9,748.0 L500.8,728.0 L498.0,708.0 L495.3,688.0 L492.9,668.0 L490.7,648.0 L488.6,628.0 L486.8,608.0 L485.2,588.0 L483.8,568.0 L482.6,548.0 L481.6,528.0 L480.8,508.0 L480.2,488.0 L479.9,468.0 L479.7,448.0 L479.8,428.0 L480.1,408.0 L480.6,388.0 L481.3,368.0 L482.3,348.0 L483.4,328.0 L484.8,308.0 L486.4,288.0 L488.2,268.0 L490.2,248.0 L492.5,228.0 L495.0,208.0 L497.7,188.0 L500.6,168.0 L503.8,148.0 L507.1,128.0 L510.7,108.0 L514.6,88.0 L518.7,68.0 L523.0,48.0 L527.5,28.0 L532.3,8.0Z" fill="rgb(218, 223, 232)"/><path d="M531.7,8.0 L526.9,28.0 L522.4,48.0 L518.1,68.0 L514.0,88.0 L510.1,108.0 L506.5,128.0 L503.2,148.0 L500.0,168.0 L497.1,188.0 L494.4,208.0 L491.9,228.0 L489.6,248.0 L487.6,268.0 L485.8,288.0 L484.2,308.0 L482.8,328.0 L481.7,348.0 L480.7,368.0 L480.0,388.0 L479.5,408.0 L479.2,428.0 L479.1,448.0 L479.3,468.0 L479.6,488.0 L480.2,508.0 L481.0,528.0 L482.0,548.0 L483.2,568.0 L484.6,588.0 L486.2,608.0 L488.0,628.0 L490.1,648.0 L492.3,668.0 L494.7,688.0 L497.4,708.0 L500.2,728.0 L503.3,748.0 L506.5,768.0 L510.0,788.0 L513.6,808.0 L517.5,828.0 L521.5,848.0 L529.2,848.0 L525.2,828.0 L521.3,808.0 L517.6,788.0 L514.2,768.0 L510.9,748.0 L507.8,728.0 L505.0,708.0 L502.3,688.0 L499.9,668.0 L497.6,648.0 L495.6,628.0 L493.7,608.0 L492.1,588.0 L490.7,568.0 L489.5,548.0 L488.5,528.0 L487.7,508.0 L487.1,488.0 L486.8,468.0 L486.6,448.0 L486.7,428.0 L487.0,408.0 L487.5,388.0 L488.2,368.0 L489.1,348.0 L490.3,328.0 L491.7,308.0 L493.3,288.0 L495.1,268.0 L497.1,248.0 L499.4,228.0 L501.9,208.0 L504.6,188.0 L507.6,168.0 L510.7,148.0 L514.1,128.0 L517.8,108.0 L521.6,88.0 L525.7,68.0 L530.1,48.0 L534.6,28.0 L539.4,8.0Z" fill="rgb(217, 223, 232)"/><path d="M538.8,8.0 L534.0,28.0 L529.5,48.0 L525.1,68.0 L521.0,88.0 L517.2,108.0 L513.5,128.0 L510.1,148.0 L507.0,168.0 L504.0,188.0 L501.3,208.0 L498.8,228.0 L496.5,248.0 L494.5,268.0 L492.7,288.0 L491.1,308.0 L489.7,328.0 L488.5,348.0 L487.6,368.0 L486.9,388.0 L486.4,408.0 L486.1,428.0 L486.0,448.0 L486.2,468.0 L486.5,488.0 L487.1,508.0 L487.9,528.0 L488.9,548.0 L490.1,568.0 L491.5,588.0 L493.1,608.0 L495.0,628.0 L497.0,648.0 L499.3,668.0 L501.7,688.0 L504.4,708.0 L507.2,728.0 L510.3,748.0 L513.6,768.0 L517.0,788.0 L520.7,808.0 L524.6,828.0 L528.6,848.0 L536.3,848.0 L532.2,828.0 L528.4,808.0 L524.7,788.0 L521.2,768.0 L517.9,748.0 L514.8,728.0 L512.0,708.0 L509.3,688.0 L506.8,668.0 L504.6,648.0 L502.5,628.0 L500.7,608.0 L499.0,588.0 L497.6,568.0 L496.4,548.0 L495.4,528.0 L494.6,508.0 L494.0,488.0 L493.6,468.0 L493.5,448.0 L493.6,428.0 L493.8,408.0 L494.3,388.0 L495.1,368.0 L496.0,348.0 L497.2,328.0 L498.5,308.0 L500.2,288.0 L502.0,268.0 L504.0,248.0 L506.3,228.0 L508.8,208.0 L511.6,188.0 L514.5,168.0 L517.7,148.0 L521.1,128.0 L524.8,108.0 L528.7,88.0 L532.8,68.0 L537.2,48.0 L541.7,28.0 L546.6,8.0Z" fill="rgb(217, 223, 232)"/><path d="M546.0,8.0 L541.1,28.0 L536.6,48.0 L532.2,68.0 L528.1,88.0 L524.2,108.0 L520.5,128.0 L517.1,148.0 L513.9,168.0 L511.0,188.0 L508.2,208.0 L505.7,228.0 L503.4,248.0 L501.4,268.0 L499.6,288.0 L497.9,308.0 L496.6,328.0 L495.4,348.0 L494.5,368.0 L493.7,388.0 L493.2,408.0 L493.0,428.0 L492.9,448.0 L493.0,468.0 L493.4,488.0 L494.0,508.0 L494.8,528.0 L495.8,548.0 L497.0,568.0 L498.4,588.0 L500.1,608.0 L501.9,628.0 L504.0,648.0 L506.2,668.0 L508.7,688.0 L511.4,708.0 L514.2,728.0 L517.3,748.0 L520.6,768.0 L524.1,788.0 L527.8,808.0 L531.6,828.0 L535.7,848.0 L543.4,848.0 L539.3,828.0 L535.4,808.0 L531.7,788.0 L528.2,768.0 L524.9,748.0 L521.8,728.0 L518.9,708.0 L516.3,688.0 L513.8,668.0 L511.5,648.0 L509.4,628.0 L507.6,608.0 L505.9,588.0 L504.5,568.0 L503.3,548.0 L502.3,528.0 L501.5,508.0 L500.9,488.0 L500.5,468.0 L500.4,448.0 L500.4,428.0 L500.7,408.0 L501.2,388.0 L501.9,368.0 L502.9,348.0 L504.0,328.0 L505.4,308.0 L507.0,288.0 L508.9,268.0 L510.9,248.0 L513.2,228.0 L515.8,208.0 L518.5,188.0 L521.5,168.0 L524.7,148.0 L528.1,128.0 L531.8,108.0 L535.7,88.0 L539.9,68.0 L544.2,48.0 L548.9,28.0 L553.7,8.0Z" fill="rgb(216, 222, 231)"/><path d="M553.1,8.0 L548.3,28.0 L543.6,48.0 L539.3,68.0 L535.1,88.0 L531.2,108.0 L527.5,128.0 L524.1,148.0 L520.9,168.0 L517.9,188.0 L515.2,208.0 L512.6,228.0 L510.3,248.0 L508.3,268.0 L506.4,288.0 L504.8,308.0 L503.4,328.0 L502.3,348.0 L501.3,368.0 L500.6,388.0 L500.1,408.0 L499.8,428.0 L499.8,448.0 L499.9,468.0 L500.3,488.0 L500.9,508.0 L501.7,528.0 L502.7,548.0 L503.9,568.0 L505.3,588.0 L507.0,608.0 L508.8,628.0 L510.9,648.0 L513.2,668.0 L515.7,688.0 L518.3,708.0 L521.2,728.0 L524.3,748.0 L527.6,768.0 L531.1,788.0 L534.8,808.0 L538.7,828.0 L542.8,848.0 L550.5,848.0 L546.4,828.0 L542.5,808.0 L538.8,788.0 L535.3,768.0 L532.0,748.0 L528.8,728.0 L525.9,708.0 L523.2,688.0 L520.7,668.0 L518.5,648.0 L516.4,628.0 L514.5,608.0 L512.9,588.0 L511.4,568.0 L510.2,548.0 L509.2,528.0 L508.3,508.0 L507.8,488.0 L507.4,468.0 L507.2,448.0 L507.3,428.0 L507.6,408.0 L508.1,388.0 L508.8,368.0 L509.7,348.0 L510.9,328.0 L512.3,308.0 L513.9,288.0 L515.8,268.0 L517.9,248.0 L520.2,228.0 L522.7,208.0 L525.5,188.0 L528.5,168.0 L531.7,148.0 L535.1,128.0 L538.8,108.0 L542.8,88.0 L546.9,68.0 L551.3,48.0 L556.0,28.0 L560.9,8.0Z" fill="rgb(215, 221, 231)"/><path d="M560.3,8.0 L555.4,28.0 L550.7,48.0 L546.3,68.0 L542.2,88.0 L538.2,108.0 L534.5,128.0 L531.1,148.0 L527.9,168.0 L524.9,188.0 L522.1,208.0 L519.6,228.0 L517.3,248.0 L515.2,268.0 L513.3,288.0 L511.7,308.0 L510.3,328.0 L509.1,348.0 L508.2,368.0 L507.5,388.0 L507.0,408.0 L506.7,428.0 L506.6,448.0 L506.8,468.0 L507.2,488.0 L507.7,508.0 L508.6,528.0 L509.6,548.0 L510.8,568.0 L512.3,588.0 L513.9,608.0 L515.8,628.0 L517.9,648.0 L520.1,668.0 L522.6,688.0 L525.3,708.0 L528.2,728.0 L531.4,748.0 L534.7,768.0 L538.2,788.0 L541.9,808.0 L545.8,828.0 L549.9,848.0 L557.6,848.0 L553.5,828.0 L549.6,808.0 L545.8,788.0 L542.3,768.0 L539.0,748.0 L535.8,728.0 L532.9,708.0 L530.2,688.0 L527.7,668.0 L525.4,648.0 L523.3,628.0 L521.4,608.0 L519.8,588.0 L518.3,568.0 L517.1,548.0 L516.0,528.0 L515.2,508.0 L514.6,488.0 L514.3,468.0 L514.1,448.0 L514.2,428.0 L514.4,408.0 L514.9,388.0 L515.7,368.0 L516.6,348.0 L517.8,328.0 L519.2,308.0 L520.8,288.0 L522.7,268.0 L524.8,248.0 L527.1,228.0 L529.6,208.0 L532.4,188.0 L535.4,168.0 L538.7,148.0 L542.1,128.0 L545.9,108.0 L549.8,88.0 L554.0,68.0 L558.4,48.0 L563.1,28.0 L568.0,8.0Z" fill="rgb(215, 221, 230)"/><path d="M567.4,8.0 L562.5,28.0 L557.8,48.0 L553.4,68.0 L549.2,88.0 L545.3,108.0 L541.5,128.0 L538.1,148.0 L534.8,168.0 L531.8,188.0 L529.0,208.0 L526.5,228.0 L524.2,248.0 L522.1,268.0 L520.2,288.0 L518.6,308.0 L517.2,328.0 L516.0,348.0 L515.1,368.0 L514.3,388.0 L513.8,408.0 L513.6,428.0 L513.5,448.0 L513.7,468.0 L514.0,488.0 L514.6,508.0 L515.4,528.0 L516.5,548.0 L517.7,568.0 L519.2,588.0 L520.8,608.0 L522.7,628.0 L524.8,648.0 L527.1,668.0 L529.6,688.0 L532.3,708.0 L535.2,728.0 L538.4,748.0 L541.7,768.0 L545.2,788.0 L549.0,808.0 L552.9,828.0 L557.0,848.0 L564.8,848.0 L560.6,828.0 L556.6,808.0 L552.9,788.0 L549.3,768.0 L546.0,748.0 L542.9,728.0 L539.9,708.0 L537.2,688.0 L534.7,668.0 L532.4,648.0 L530.3,628.0 L528.4,608.0 L526.7,588.0 L525.2,568.0 L524.0,548.0 L522.9,528.0 L522.1,508.0 L521.5,488.0 L521.1,468.0 L521.0,448.0 L521.0,428.0 L521.3,408.0 L521.8,388.0 L522.5,368.0 L523.5,348.0 L524.7,328.0 L526.1,308.0 L527.7,288.0 L529.6,268.0 L531.7,248.0 L534.0,228.0 L536.6,208.0 L539.4,188.0 L542.4,168.0 L545.6,148.0 L549.1,128.0 L552.9,108.0 L556.9,88.0 L561.1,68.0 L565.5,48.0 L570.2,28.0 L575.2,8.0Z" fill="rgb(214, 220, 230)"/><path d="M574.6,8.0 L569.6,28.0 L564.9,48.0 L560.5,68.0 L556.3,88.0 L552.3,108.0 L548.5,128.0 L545.0,148.0 L541.8,168.0 L538.8,188.0 L536.0,208.0 L533.4,228.0 L531.1,248.0 L529.0,268.0 L527.1,288.0 L525.5,308.0 L524.1,328.0 L522.9,348.0 L521.9,368.0 L521.2,388.0 L520.7,408.0 L520.4,428.0 L520.4,448.0 L520.5,468.0 L520.9,488.0 L521.5,508.0 L522.3,528.0 L523.4,548.0 L524.6,568.0 L526.1,588.0 L527.8,608.0 L529.7,628.0 L531.8,648.0 L534.1,668.0 L536.6,688.0 L539.3,708.0 L542.3,728.0 L545.4,748.0 L548.7,768.0 L552.3,788.0 L556.0,808.0 L560.0,828.0 L564.2,848.0 L571.9,848.0 L567.7,828.0 L563.7,808.0 L559.9,788.0 L556.4,768.0 L553.0,748.0 L549.9,728.0 L546.9,708.0 L544.2,688.0 L541.6,668.0 L539.3,648.0 L537.2,628.0 L535.3,608.0 L533.6,588.0 L532.1,568.0 L530.9,548.0 L529.8,528.0 L529.0,508.0 L528.4,488.0 L528.0,468.0 L527.8,448.0 L527.9,428.0 L528.2,408.0 L528.7,388.0 L529.4,368.0 L530.4,348.0 L531.6,328.0 L533.0,308.0 L534.6,288.0 L536.5,268.0 L538.6,248.0 L540.9,228.0 L543.5,208.0 L546.3,188.0 L549.3,168.0 L552.6,148.0 L556.1,128.0 L559.9,108.0 L563.9,88.0 L568.2,68.0 L572.6,48.0 L577.4,28.0 L582.3,8.0Z" fill="rgb(214, 220, 229)"/><path d="M581.7,8.0 L576.8,28.0 L572.0,48.0 L567.6,68.0 L563.3,88.0 L559.3,108.0 L555.5,128.0 L552.0,148.0 L548.7,168.0 L545.7,188.0 L542.9,208.0 L540.3,228.0 L538.0,248.0 L535.9,268.0 L534.0,288.0 L532.4,308.0 L531.0,328.0 L529.8,348.0 L528.8,368.0 L528.1,388.0 L527.6,408.0 L527.3,428.0 L527.2,448.0 L527.4,468.0 L527.8,488.0 L528.4,508.0 L529.2,528.0 L530.3,548.0 L531.5,568.0 L533.0,588.0 L534.7,608.0 L536.6,628.0 L538.7,648.0 L541.0,668.0 L543.6,688.0 L546.3,708.0 L549.3,728.0 L552.4,748.0 L555.8,768.0 L559.3,788.0 L563.1,808.0 L567.1,828.0 L571.3,848.0 L579.0,848.0 L574.8,828.0 L570.8,808.0 L567.0,788.0 L563.4,768.0 L560.0,748.0 L556.9,728.0 L553.9,708.0 L551.1,688.0 L548.6,668.0 L546.3,648.0 L544.1,628.0 L542.2,608.0 L540.5,588.0 L539.0,568.0 L537.8,548.0 L536.7,528.0 L535.9,508.0 L535.3,488.0 L534.9,468.0 L534.7,448.0 L534.8,428.0 L535.1,408.0 L535.6,388.0 L536.3,368.0 L537.2,348.0 L538.4,328.0 L539.9,308.0 L541.5,288.0 L543.4,268.0 L545.5,248.0 L547.8,228.0 L550.4,208.0 L553.3,188.0 L556.3,168.0 L559.6,148.0 L563.2,128.0 L566.9,108.0 L571.0,88.0 L575.2,68.0 L579.7,48.0 L584.5,28.0 L589.5,8.0Z" fill="rgb(213, 219, 229)"/><path d="M588.9,8.0 L583.9,28.0 L579.1,48.0 L574.6,68.0 L570.4,88.0 L566.3,108.0 L562.6,128.0 L559.0,148.0 L555.7,168.0 L552.7,188.0 L549.8,208.0 L547.2,228.0 L544.9,248.0 L542.8,268.0 L540.9,288.0 L539.3,308.0 L537.8,328.0 L536.6,348.0 L535.7,368.0 L535.0,388.0 L534.5,408.0 L534.2,428.0 L534.1,448.0 L534.3,468.0 L534.7,488.0 L535.3,508.0 L536.1,528.0 L537.2,548.0 L538.4,568.0 L539.9,588.0 L541.6,608.0 L543.5,628.0 L545.7,648.0 L548.0,668.0 L550.5,688.0 L553.3,708.0 L556.3,728.0 L559.4,748.0 L562.8,768.0 L566.4,788.0 L570.2,808.0 L574.2,828.0 L578.4,848.0 L586.1,848.0 L581.9,828.0 L577.9,808.0 L574.1,788.0 L570.5,768.0 L567.1,748.0 L563.9,728.0 L560.9,708.0 L558.1,688.0 L555.6,668.0 L553.2,648.0 L551.1,628.0 L549.1,608.0 L547.4,588.0 L545.9,568.0 L544.7,548.0 L543.6,528.0 L542.8,508.0 L542.2,488.0 L541.8,468.0 L541.6,448.0 L541.6,428.0 L541.9,408.0 L542.4,388.0 L543.2,368.0 L544.1,348.0 L545.3,328.0 L546.7,308.0 L548.4,288.0 L550.3,268.0 L552.4,248.0 L554.8,228.0 L557.4,208.0 L560.2,188.0 L563.3,168.0 L566.6,148.0 L570.2,128.0 L574.0,108.0 L578.0,88.0 L582.3,68.0 L586.8,48.0 L591.6,28.0 L596.7,8.0Z" fill="rgb(212, 218, 228)"/><path d="M596.1,8.0 L591.0,28.0 L586.2,48.0 L581.7,68.0 L577.4,88.0 L573.4,108.0 L569.6,128.0 L566.0,148.0 L562.7,168.0 L559.6,188.0 L556.8,208.0 L554.2,228.0 L551.8,248.0 L549.7,268.0 L547.8,288.0 L546.1,308.0 L544.7,328.0 L543.5,348.0 L542.6,368.0 L541.8,388.0 L541.3,408.0 L541.0,428.0 L541.0,448.0 L541.2,468.0 L541.6,488.0 L542.2,508.0 L543.0,528.0 L544.1,548.0 L545.3,568.0 L546.8,588.0 L548.5,608.0 L550.5,628.0 L552.6,648.0 L555.0,668.0 L557.5,688.0 L560.3,708.0 L563.3,728.0 L566.5,748.0 L569.9,768.0 L573.5,788.0 L577.3,808.0 L581.3,828.0 L585.5,848.0 L593.2,848.0 L589.0,828.0 L584.9,808.0 L581.1,788.0 L577.5,768.0 L574.1,748.0 L570.9,728.0 L567.9,708.0 L565.1,688.0 L562.5,668.0 L560.2,648.0 L558.0,628.0 L556.1,608.0 L554.4,588.0 L552.8,568.0 L551.6,548.0 L550.5,528.0 L549.7,508.0 L549.0,488.0 L548.6,468.0 L548.5,448.0 L548.5,428.0 L548.8,408.0 L549.3,388.0 L550.0,368.0 L551.0,348.0 L552.2,328.0 L553.6,308.0 L555.3,288.0 L557.2,268.0 L559.3,248.0 L561.7,228.0 L564.3,208.0 L567.1,188.0 L570.2,168.0 L573.6,148.0 L577.2,128.0 L581.0,108.0 L585.0,88.0 L589.4,68.0 L593.9,48.0 L598.7,28.0 L603.8,8.0Z" fill="rgb(211, 217, 227)"/><path d="M603.2,8.0 L598.1,28.0 L593.3,48.0 L588.8,68.0 L584.4,88.0 L580.4,108.0 L576.6,128.0 L573.0,148.0 L569.6,168.0 L566.5,188.0 L563.7,208.0 L561.1,228.0 L558.7,248.0 L556.6,268.0 L554.7,288.0 L553.0,308.0 L551.6,328.0 L550.4,348.0 L549.4,368.0 L548.7,388.0 L548.2,408.0 L547.9,428.0 L547.9,448.0 L548.0,468.0 L548.4,488.0 L549.1,508.0 L549.9,528.0 L551.0,548.0 L552.2,568.0 L553.8,588.0 L555.5,608.0 L557.4,628.0 L559.6,648.0 L561.9,668.0 L564.5,688.0 L567.3,708.0 L570.3,728.0 L573.5,748.0 L576.9,768.0 L580.5,788.0 L584.3,808.0 L588.4,828.0 L592.6,848.0 L600.3,848.0 L596.0,828.0 L592.0,808.0 L588.2,788.0 L584.5,768.0 L581.1,748.0 L577.9,728.0 L574.9,708.0 L572.1,688.0 L569.5,668.0 L567.1,648.0 L564.9,628.0 L563.0,608.0 L561.3,588.0 L559.8,568.0 L558.5,548.0 L557.4,528.0 L556.5,508.0 L555.9,488.0 L555.5,468.0 L555.3,448.0 L555.4,428.0 L555.7,408.0 L556.2,388.0 L556.9,368.0 L557.9,348.0 L559.1,328.0 L560.5,308.0 L562.2,288.0 L564.1,268.0 L566.2,248.0 L568.6,228.0 L571.2,208.0 L574.1,188.0 L577.2,168.0 L580.6,148.0 L584.2,128.0 L588.0,108.0 L592.1,88.0 L596.4,68.0 L601.0,48.0 L605.9,28.0 L611.0,8.0Z" fill="rgb(210, 216, 226)"/><path d="M610.4,8.0 L605.3,28.0 L600.4,48.0 L595.8,68.0 L591.5,88.0 L587.4,108.0 L583.6,128.0 L580.0,148.0 L576.6,168.0 L573.5,188.0 L570.6,208.0 L568.0,228.0 L565.6,248.0 L563.5,268.0 L561.6,288.0 L559.9,308.0 L558.5,328.0 L557.3,348.0 L556.3,368.0 L555.6,388.0 L555.1,408.0 L554.8,428.0 L554.7,448.0 L554.9,468.0 L555.3,488.0 L555.9,508.0 L556.8,528.0 L557.9,548.0 L559.2,568.0 L560.7,588.0 L562.4,608.0 L564.3,628.0 L566.5,648.0 L568.9,668.0 L571.5,688.0 L574.3,708.0 L577.3,728.0 L580.5,748.0 L583.9,768.0 L587.6,788.0 L591.4,808.0 L595.4,828.0 L599.7,848.0 L607.4,848.0 L603.1,828.0 L599.1,808.0 L595.2,788.0 L591.6,768.0 L588.1,748.0 L584.9,728.0 L581.9,708.0 L579.0,688.0 L576.4,668.0 L574.1,648.0 L571.9,628.0 L569.9,608.0 L568.2,588.0 L566.7,568.0 L565.4,548.0 L564.3,528.0 L563.4,508.0 L562.8,488.0 L562.4,468.0 L562.2,448.0 L562.3,428.0 L562.5,408.0 L563.0,388.0 L563.8,368.0 L564.7,348.0 L565.9,328.0 L567.4,308.0 L569.1,288.0 L571.0,268.0 L573.1,248.0 L575.5,228.0 L578.2,208.0 L581.0,188.0 L584.2,168.0 L587.5,148.0 L591.2,128.0 L595.0,108.0 L599.1,88.0 L603.5,68.0 L608.1,48.0 L613.0,28.0 L618.1,8.0Z" fill="rgb(209, 215, 225)"/><path d="M617.5,8.0 L612.4,28.0 L607.5,48.0 L602.9,68.0 L598.5,88.0 L594.4,108.0 L590.6,128.0 L586.9,148.0 L583.6,168.0 L580.4,188.0 L577.6,208.0 L574.9,228.0 L572.5,248.0 L570.4,268.0 L568.5,288.0 L566.8,308.0 L565.3,328.0 L564.1,348.0 L563.2,368.0 L562.4,388.0 L561.9,408.0 L561.7,428.0 L561.6,448.0 L561.8,468.0 L562.2,488.0 L562.8,508.0 L563.7,528.0 L564.8,548.0 L566.1,568.0 L567.6,588.0 L569.3,608.0 L571.3,628.0 L573.5,648.0 L575.8,668.0 L578.4,688.0 L581.3,708.0 L584.3,728.0 L587.5,748.0 L591.0,768.0 L594.6,788.0 L598.5,808.0 L602.5,828.0 L606.8,848.0 L614.5,848.0 L610.2,828.0 L606.1,808.0 L602.3,788.0 L598.6,768.0 L595.1,748.0 L591.9,728.0 L588.8,708.0 L586.0,688.0 L583.4,668.0 L581.0,648.0 L578.8,628.0 L576.9,608.0 L575.1,588.0 L573.6,568.0 L572.3,548.0 L571.2,528.0 L570.3,508.0 L569.7,488.0 L569.3,468.0 L569.1,448.0 L569.1,428.0 L569.4,408.0 L569.9,388.0 L570.6,368.0 L571.6,348.0 L572.8,328.0 L574.3,308.0 L576.0,288.0 L577.9,268.0 L580.0,248.0 L582.5,228.0 L585.1,208.0 L588.0,188.0 L591.1,168.0 L594.5,148.0 L598.2,128.0 L602.0,108.0 L606.2,88.0 L610.6,68.0 L615.2,48.0 L620.1,28.0 L625.3,8.0Z" fill="rgb(207, 214, 224)"/><path d="M624.7,8.0 L619.5,28.0 L614.6,48.0 L610.0,68.0 L605.6,88.0 L601.4,108.0 L597.6,128.0 L593.9,148.0 L590.5,168.0 L587.4,188.0 L584.5,208.0 L581.9,228.0 L579.4,248.0 L577.3,268.0 L575.4,288.0 L573.7,308.0 L572.2,328.0 L571.0,348.0 L570.0,368.0 L569.3,388.0 L568.8,408.0 L568.5,428.0 L568.5,448.0 L568.7,468.0 L569.1,488.0 L569.7,508.0 L570.6,528.0 L571.7,548.0 L573.0,568.0 L574.5,588.0 L576.3,608.0 L578.2,628.0 L580.4,648.0 L582.8,668.0 L585.4,688.0 L588.2,708.0 L591.3,728.0 L594.5,748.0 L598.0,768.0 L601.7,788.0 L605.5,808.0 L609.6,828.0 L613.9,848.0 L621.6,848.0 L617.3,828.0 L613.2,808.0 L609.3,788.0 L605.6,768.0 L602.2,748.0 L598.9,728.0 L595.8,708.0 L593.0,688.0 L590.4,668.0 L588.0,648.0 L585.8,628.0 L583.8,608.0 L582.0,588.0 L580.5,568.0 L579.2,548.0 L578.1,528.0 L577.2,508.0 L576.6,488.0 L576.1,468.0 L576.0,448.0 L576.0,428.0 L576.3,408.0 L576.8,388.0 L577.5,368.0 L578.5,348.0 L579.7,328.0 L581.2,308.0 L582.8,288.0 L584.8,268.0 L587.0,248.0 L589.4,228.0 L592.0,208.0 L594.9,188.0 L598.1,168.0 L601.5,148.0 L605.2,128.0 L609.1,108.0 L613.2,88.0 L617.6,68.0 L622.3,48.0 L627.2,28.0 L632.4,8.0Z" fill="rgb(206, 213, 223)"/><path d="M631.8,8.0 L626.6,28.0 L621.7,48.0 L617.0,68.0 L612.6,88.0 L608.5,108.0 L604.6,128.0 L600.9,148.0 L597.5,168.0 L594.3,188.0 L591.4,208.0 L588.8,228.0 L586.4,248.0 L584.2,268.0 L582.2,288.0 L580.6,308.0 L579.1,328.0 L577.9,348.0 L576.9,368.0 L576.2,388.0 L575.7,408.0 L575.4,428.0 L575.4,448.0 L575.5,468.0 L576.0,488.0 L576.6,508.0 L577.5,528.0 L578.6,548.0 L579.9,568.0 L581.4,588.0 L583.2,608.0 L585.2,628.0 L587.4,648.0 L589.8,668.0 L592.4,688.0 L595.2,708.0 L598.3,728.0 L601.6,748.0 L605.0,768.0 L608.7,788.0 L612.6,808.0 L616.7,828.0 L621.0,848.0 L628.7,848.0 L624.4,828.0 L620.3,808.0 L616.4,788.0 L612.7,768.0 L609.2,748.0 L605.9,728.0 L602.8,708.0 L600.0,688.0 L597.3,668.0 L594.9,648.0 L592.7,628.0 L590.7,608.0 L588.9,588.0 L587.4,568.0 L586.1,548.0 L585.0,528.0 L584.1,508.0 L583.4,488.0 L583.0,468.0 L582.8,448.0 L582.9,428.0 L583.1,408.0 L583.6,388.0 L584.4,368.0 L585.4,348.0 L586.6,328.0 L588.0,308.0 L589.7,288.0 L591.7,268.0 L593.9,248.0 L596.3,228.0 L599.0,208.0 L601.9,188.0 L605.1,168.0 L608.5,148.0 L612.2,128.0 L616.1,108.0 L620.3,88.0 L624.7,68.0 L629.4,48.0 L634.4,28.0 L639.6,8.0Z" fill="rgb(205, 212, 222)"/><path d="M353.1,8.0 L349.1,28.0 L345.2,48.0 L341.6,68.0 L338.1,88.0 L334.9,108.0 L331.8,128.0 L328.9,148.0 L326.2,168.0 L323.6,188.0 L321.3,208.0 L319.1,228.0 L317.2,248.0 L315.4,268.0 L313.8,288.0 L312.4,308.0 L311.1,328.0 L310.1,348.0 L309.2,368.0 L308.6,388.0 L308.1,408.0 L307.8,428.0 L307.6,448.0 L307.7,468.0 L308.0,488.0 L308.4,508.0 L309.0,528.0 L309.8,548.0 L310.8,568.0 L312.0,588.0 L313.3,608.0 L314.9,628.0 L316.6,648.0 L318.5,668.0 L320.6,688.0 L322.9,708.0 L325.4,728.0 L328.1,748.0 L330.9,768.0 L333.9,788.0 L337.1,808.0 L340.5,828.0 L344.1,848.0" stroke="#fbfcff" stroke-width="3.1" fill="none"/><path d="M639.3,8.0 L634.1,28.0 L629.1,48.0 L624.4,68.0 L620.0,88.0 L615.8,108.0 L611.9,128.0 L608.2,148.0 L604.8,168.0 L601.6,188.0 L598.7,208.0 L596.0,228.0 L593.6,248.0 L591.4,268.0 L589.4,288.0 L587.7,308.0 L586.3,328.0 L585.1,348.0 L584.1,368.0 L583.3,388.0 L582.8,408.0 L582.6,428.0 L582.5,448.0 L582.7,468.0 L583.1,488.0 L583.8,508.0 L584.7,528.0 L585.8,548.0 L587.1,568.0 L588.6,588.0 L590.4,608.0 L592.4,628.0 L594.6,648.0 L597.0,668.0 L599.7,688.0 L602.5,708.0 L605.6,728.0 L608.9,748.0 L612.4,768.0 L616.1,788.0 L620.0,808.0 L624.1,828.0 L628.4,848.0" stroke="#fbfcff" stroke-width="3.1" fill="none"/><path d="M486.1,53.0 L484.5,60.6 L483.0,68.2 L481.4,75.8 L479.9,83.4 L478.5,91.0" stroke="#ffffff" stroke-opacity="0.3" stroke-width="3.2" fill="none"/><path d="M471.8,128.0 L470.6,135.6 L469.3,143.2 L468.1,150.8 L466.9,158.4 L465.8,166.0" stroke="#ffffff" stroke-opacity="0.12" stroke-width="3.2" fill="none"/><path d="M459.6,211.0 L458.7,218.6 L457.8,226.2 L456.9,233.8 L456.1,241.4 L455.3,249.0" stroke="#ffffff" stroke-opacity="0.3" stroke-width="3.2" fill="none"/><path d="M451.4,291.0 L450.8,298.6 L450.2,306.2 L449.6,313.8 L449.1,321.4 L448.6,329.0" stroke="#ffffff" stroke-opacity="0.3" stroke-width="3.2" fill="none"/><path d="M446.5,372.0 L446.2,379.6 L446.0,387.2 L445.8,394.8 L445.6,402.4 L445.4,410.0" stroke="#ffffff" stroke-opacity="0.25" stroke-width="3.2" fill="none"/><path d="M445.1,455.0 L445.2,462.6 L445.2,470.2 L445.3,477.8 L445.5,485.4 L445.7,493.0" stroke="#ffffff" stroke-opacity="0.45" stroke-width="3.2" fill="none"/><path d="M447.1,535.0 L447.5,542.6 L447.9,550.2 L448.3,557.8 L448.8,565.4 L449.3,573.0" stroke="#ffffff" stroke-opacity="0.95" stroke-width="3.2" fill="none"/><path d="M452.6,616.0 L453.2,623.6 L453.9,631.2 L454.7,638.8 L455.4,646.4 L456.2,654.0" stroke="#ffffff" stroke-opacity="0.95" stroke-width="3.2" fill="none"/><path d="M461.3,697.0 L462.3,704.6 L463.3,712.2 L464.3,719.8 L465.4,727.4 L466.5,735.0" stroke="#ffffff" stroke-opacity="0.95" stroke-width="3.2" fill="none"/><path d="M473.3,778.0 L474.6,785.6 L475.9,793.2 L477.3,800.8 L478.6,808.4 L480.0,816.0" stroke="#ffffff" stroke-opacity="0.95" stroke-width="3.2" fill="none"/></g><path d="M381.7,678 L263.1,375.4 A325,325 0 0 1 505.8,377.6 Z" fill="rgb(212,228,245)" style="mix-blend-mode:multiply"/><rect x="372.7" y="280.1" width="11" height="8.8" fill="#c66a70" opacity="0.45"/><rect x="372.2" y="298.4" width="11" height="8.8" fill="#c66a70" opacity="1"/><rect x="371.6" y="316.7" width="11" height="8.8" fill="#c66a70" opacity="1"/><rect x="371.0" y="335.0" width="11" height="8.8" fill="#c66a70" opacity="1"/><rect x="370.4" y="353.4" width="11" height="8.8" fill="#b0626b" opacity="1"/><rect x="369.8" y="371.7" width="11" height="8.8" fill="#b0626b" opacity="1"/><rect x="369.2" y="390.0" width="11" height="8.8" fill="#b0626b" opacity="1"/><rect x="368.6" y="408.3" width="11" height="8.8" fill="#b0626b" opacity="1"/><rect x="368.2" y="426.6" width="11" height="8.8" fill="#b0626b" opacity="1"/><rect x="367.9" y="445.0" width="11" height="8.8" fill="#b0626b" opacity="1"/><rect x="367.7" y="463.3" width="11" height="8.8" fill="#b0626b" opacity="1"/><rect x="367.5" y="481.6" width="11" height="8.8" fill="#b0626b" opacity="1"/><rect x="367.4" y="499.9" width="11" height="8.8" fill="#b0626b" opacity="1"/><rect x="367.9" y="518.2" width="11" height="8.8" fill="#b0626b" opacity="1"/><rect x="368.4" y="536.6" width="11" height="8.8" fill="#b0626b" opacity="1"/><rect x="368.8" y="554.9" width="11" height="8.8" fill="#b0626b" opacity="1"/><rect x="369.3" y="573.2" width="11" height="8.8" fill="#b0626b" opacity="1"/><rect x="369.8" y="591.5" width="11" height="8.8" fill="#b0626b" opacity="1"/><g transform="translate(389.5,182) rotate(5.7) scale(1,1.0)"><path d="M-35.5,-66 C-35.5,-86 -20,-101 0,-101 C20,-101 35.5,-86 35.5,-66 L35.5,86 Q35.5,100 22,100 L-22,100 Q-35.5,100 -35.5,86 Z" fill="#c8ccd2" stroke="#74777d" stroke-width="1.2"/><path d="M-30,-66 C-30,-84 -16,-96 0,-96 C16,-96 30,-84 30,-66 L30,86 Q30,95.5 19,95.5 L-19,95.5 Q-30,95.5 -30,86 Z" fill="url(#carg)"/><path d="M-26.5,-49 L-26.5,-70 C-26.5,-86 -14,-96.5 0,-96.5 C14,-96.5 26.5,-86 26.5,-70 L26.5,-49 Z" fill="url(#hoodg)" stroke="#d2d5da" stroke-width="2.2"/><path d="M-33.5,-58 C-33.5,-80 -24,-93 -12,-98" stroke="#2e3034" stroke-width="2" fill="none"/><path d="M33.5,-58 C33.5,-80 24,-93 12,-98" stroke="#2e3034" stroke-width="2" fill="none"/><path d="M-31,-34 L-29.5,55" stroke="#d2d5da" stroke-width="11" fill="none"/><path d="M31,-34 L29.5,55" stroke="#d2d5da" stroke-width="11" fill="none"/><path d="M-31,-34 L-29.5,55" stroke="#080808" stroke-width="4.6" fill="none"/><path d="M31,-34 L29.5,55" stroke="#080808" stroke-width="4.6" fill="none"/><path d="M-29,-46 Q0,-53 29,-46 L27.5,-17 Q0,-14.5 -27.5,-17 Z" fill="#070707" paint-order="stroke" stroke="#d2d5da" stroke-width="7" stroke-linejoin="round"/><rect x="-19.5" y="-8.5" width="39" height="22.5" rx="2" fill="#070707" paint-order="stroke" stroke="#d2d5da" stroke-width="7" stroke-linejoin="round"/><path d="M-26,54 Q0,52 26,54 L26,82 Q0,87 -26,82 Z" fill="#070707" paint-order="stroke" stroke="#d2d5da" stroke-width="7" stroke-linejoin="round"/><path d="M-32,-33 Q-40,-33 -45,-28 Q-46,-25 -43,-25 L-32,-27 Z" fill="#1d1d1f"/><path d="M32,-33 Q40,-33 45,-28 Q46,-25 43,-25 L32,-27 Z" fill="#1d1d1f"/></g><g transform="translate(388,709.6) rotate(-6.4) scale(1,0.975)"><path d="M-35.5,-66 C-35.5,-86 -20,-101 0,-101 C20,-101 35.5,-86 35.5,-66 L35.5,86 Q35.5,100 22,100 L-22,100 Q-35.5,100 -35.5,86 Z" fill="#c8ccd2" stroke="#74777d" stroke-width="1.2"/><path d="M-30,-66 C-30,-84 -16,-96 0,-96 C16,-96 30,-84 30,-66 L30,86 Q30,95.5 19,95.5 L-19,95.5 Q-30,95.5 -30,86 Z" fill="url(#carg)"/><path d="M-26.5,-49 L-26.5,-70 C-26.5,-86 -14,-96.5 0,-96.5 C14,-96.5 26.5,-86 26.5,-70 L26.5,-49 Z" fill="url(#hoodg2)" stroke="#d2d5da" stroke-width="2.2"/><path d="M-33.5,-58 C-33.5,-80 -24,-93 -12,-98" stroke="#2e3034" stroke-width="2" fill="none"/><path d="M33.5,-58 C33.5,-80 24,-93 12,-98" stroke="#2e3034" stroke-width="2" fill="none"/><path d="M-31,-34 L-29.5,55" stroke="#d2d5da" stroke-width="11" fill="none"/><path d="M31,-34 L29.5,55" stroke="#d2d5da" stroke-width="11" fill="none"/><path d="M-31,-34 L-29.5,55" stroke="#080808" stroke-width="4.6" fill="none"/><path d="M31,-34 L29.5,55" stroke="#080808" stroke-width="4.6" fill="none"/><path d="M-29,-46 Q0,-53 29,-46 L27.5,-17 Q0,-14.5 -27.5,-17 Z" fill="#070707" paint-order="stroke" stroke="#d2d5da" stroke-width="7" stroke-linejoin="round"/><rect x="-19.5" y="-8.5" width="39" height="22.5" rx="2" fill="#070707" paint-order="stroke" stroke="#d2d5da" stroke-width="7" stroke-linejoin="round"/><path d="M-26,54 Q0,52 26,54 L26,82 Q0,87 -26,82 Z" fill="#070707" paint-order="stroke" stroke="#d2d5da" stroke-width="7" stroke-linejoin="round"/><path d="M-32,-33 Q-40,-33 -45,-28 Q-46,-25 -43,-25 L-32,-27 Z" fill="#1d1d1f"/><path d="M32,-33 Q40,-33 45,-28 Q46,-25 43,-25 L32,-27 Z" fill="#1d1d1f"/></g><path d="M413.2,32 L424.2,63.4 L413.6,64.2 L409.2,84 L398.6,83 L400.8,59.8 L391.5,56.7 Z" fill="#cc7468"/><defs><radialGradient id="glow"><stop offset="0" stop-color="#fff" stop-opacity="0.75"/><stop offset="1" stop-color="#fff" stop-opacity="0"/></radialGradient></defs><circle cx="466" cy="145.3" r="13" fill="url(#glow)"/><path d="M467.4,145.3 L682,145.3" stroke="#ffffff" stroke-opacity="0.45" stroke-width="4.5"/><path d="M443.8,379.4 L682.3,235.6" stroke="#ffffff" stroke-opacity="0.45" stroke-width="4.5"/><path d="M373.2,512.8 L682.3,316" stroke="#ffffff" stroke-opacity="0.45" stroke-width="4.5"/><path d="M467.4,145.3 L682,145.3" stroke="#545b64" stroke-width="2"/><path d="M443.8,379.4 L682.3,235.6" stroke="#545b64" stroke-width="2"/><path d="M373.2,512.8 L682.3,316" stroke="#545b64" stroke-width="2"/><circle cx="467.4" cy="145.3" r="3.6" fill="#141a22"/><circle cx="443.8" cy="379.4" r="3.6" fill="#141a22"/><circle cx="373.2" cy="512.8" r="3.6" fill="#141a22"/><text x="701.87" y="78" font-size="36.5" fill="#0a0a0a" stroke="#f1f2f4" stroke-width="0.15" textLength="406.94" lengthAdjust="spacingAndGlyphs">Lane Tracing Assist activation</text><text x="701.42" y="145.3" font-size="29" fill="#0a0a0a" stroke="#f1f2f4" stroke-width="0.15" textLength="293.41" lengthAdjust="spacingAndGlyphs">Faded or unclear lane line</text><text x="701.23" y="231" font-size="29" fill="#176eae" stroke="#f1f2f4" stroke-width="0.15" textLength="9.54" lengthAdjust="spacingAndGlyphs">(</text><text x="710.41" y="231" font-size="29" fill="#176eae" stroke="#f1f2f4" stroke-width="0.15" textLength="17.58" lengthAdjust="spacingAndGlyphs">2</text><text x="727.83" y="231" font-size="29" fill="#176eae" stroke="#f1f2f4" stroke-width="0.15" textLength="9.54" lengthAdjust="spacingAndGlyphs">)</text><text x="744.79" y="231" font-size="29" fill="#176eae" stroke="#f1f2f4" stroke-width="0.15" textLength="364.21" lengthAdjust="spacingAndGlyphs">Lane line recognition by camera</text><text x="701.18" y="313.2" font-size="29" fill="#e3414a" stroke="#f1f2f4" stroke-width="0.15" textLength="9.79" lengthAdjust="spacingAndGlyphs">(</text><text x="719.83" y="313.2" font-size="29" fill="#e3414a" stroke="#f1f2f4" stroke-width="0.15" textLength="9.79" lengthAdjust="spacingAndGlyphs">)</text><text x="744.79" y="313.2" font-size="29" fill="#e3414a" stroke="#f1f2f4" stroke-width="0.15" textLength="288.95" lengthAdjust="spacingAndGlyphs">Path of preceding vehicle</text><text x="702.89" y="435" font-size="29" fill="#0a0a0a" stroke="#f1f2f4" stroke-width="0.15" textLength="635.07" lengthAdjust="spacingAndGlyphs">When the line is not clear or faded, or when the length of</text><text x="702.62" y="471.5" font-size="29" fill="#0a0a0a" stroke="#f1f2f4" stroke-width="0.15" textLength="645.02" lengthAdjust="spacingAndGlyphs">the lane line is short due to little distance to the preceding</text><text x="702.91" y="506.3" font-size="29" fill="#0a0a0a" stroke="#f1f2f4" stroke-width="0.15" textLength="133.90" lengthAdjust="spacingAndGlyphs">vehicle, etc.</text><text x="700.14" y="576.4" font-size="29" fill="#0a0a0a" stroke="#f1f2f4" stroke-width="0.15" textLength="8.91" lengthAdjust="spacingAndGlyphs">(</text><text x="709.01" y="576.4" font-size="29" fill="#0a0a0a" stroke="#f1f2f4" stroke-width="0.15" textLength="17.58" lengthAdjust="spacingAndGlyphs">2</text><text x="726.03" y="576.4" font-size="29" fill="#0a0a0a" stroke="#f1f2f4" stroke-width="0.15" textLength="9.79" lengthAdjust="spacingAndGlyphs">)</text><text x="746.79" y="576.4" font-size="29" fill="#5888c2" stroke="#f1f2f4" stroke-width="0.15" textLength="567.91" lengthAdjust="spacingAndGlyphs">When line recognition processing with the camera</text><text x="745.51" y="610.9" font-size="29" fill="#0a0a0a" stroke="#f1f2f4" stroke-width="0.15" textLength="173.12" lengthAdjust="spacingAndGlyphs">is not adequate</text><text x="700.14" y="666.8" font-size="29" fill="#0a0a0a" stroke="#f1f2f4" stroke-width="0.15" textLength="8.91" lengthAdjust="spacingAndGlyphs">(</text><text x="718.43" y="666.8" font-size="29" fill="#0a0a0a" stroke="#f1f2f4" stroke-width="0.15" textLength="9.54" lengthAdjust="spacingAndGlyphs">)</text><text x="745.75" y="666.8" font-size="29" fill="#0a0a0a" stroke="#f1f2f4" stroke-width="0.15" textLength="440.71" lengthAdjust="spacingAndGlyphs">Steering control is based on the path of</text><text x="1192.20" y="666.8" font-size="29" fill="#e3414a" stroke="#f1f2f4" stroke-width="0.15" textLength="159.19" lengthAdjust="spacingAndGlyphs">the preceding</text><text x="746.81" y="702.2" font-size="29" fill="#e3414a" stroke="#f1f2f4" stroke-width="0.15" textLength="80.33" lengthAdjust="spacingAndGlyphs">vehicle</text><text x="139.06" y="118.7" font-size="29" fill="#0a0a0a" stroke="#f1f2f4" stroke-width="0.15" textLength="54.38" lengthAdjust="spacingAndGlyphs">Slow</text><text x="138.46" y="155.4" font-size="29" fill="#0a0a0a" stroke="#f1f2f4" stroke-width="0.15" textLength="133.58" lengthAdjust="spacingAndGlyphs">proceeding</text><text x="140.11" y="191.3" font-size="29" fill="#0a0a0a" stroke="#f1f2f4" stroke-width="0.15" textLength="79.62" lengthAdjust="spacingAndGlyphs">vehicle</text><text x="138.83" y="678.4" font-size="29" fill="#0a0a0a" stroke="#f1f2f4" stroke-width="0.15" textLength="59.66" lengthAdjust="spacingAndGlyphs">Own</text><text x="140.11" y="715.7" font-size="29" fill="#0a0a0a" stroke="#f1f2f4" stroke-width="0.15" textLength="80.03" lengthAdjust="spacingAndGlyphs">vehicle</text><path d="M711.6,296.6 L716.9,291.4 L716.9,313.6" stroke="#e3414a" stroke-width="2.3" fill="none" stroke-linejoin="miter"/><path d="M710,650.6 L715,645.6 L715,668" stroke="#0a0a0a" stroke-width="2.3" fill="none" stroke-linejoin="miter"/><rect x="703" y="82.8" width="405" height="1.6" fill="#111"/></svg></body></html>
